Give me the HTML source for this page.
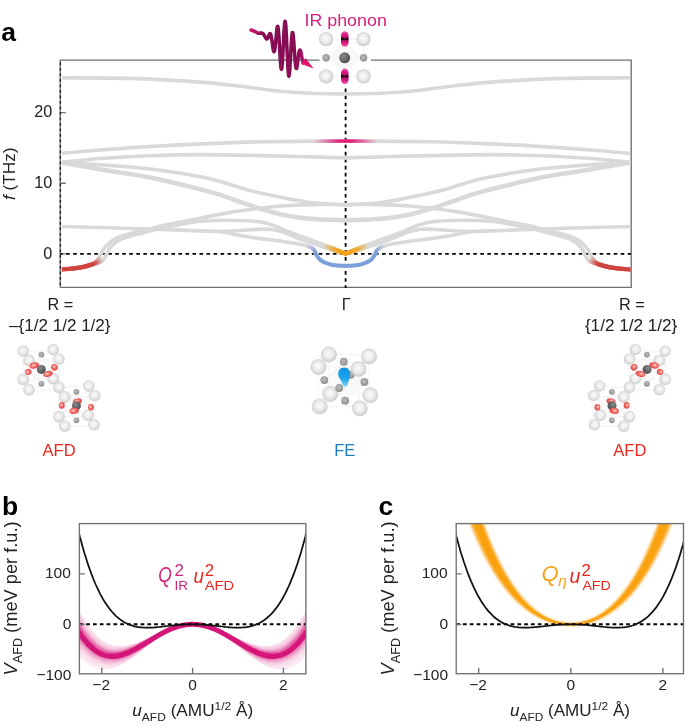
<!DOCTYPE html><html><head><meta charset="utf-8"><style>html,body{margin:0;padding:0;background:#fff;}svg{display:block;will-change:transform;font-family:"Liberation Sans",sans-serif}</style></head><body>
<svg width="685" height="727" viewBox="0 0 685 727" font-family="'Liberation Sans', sans-serif">
<defs>
<radialGradient id="gBig" cx="0.48" cy="0.46" r="0.55">
 <stop offset="0" stop-color="#fbfbfb"/><stop offset="0.5" stop-color="#ebebeb"/><stop offset="0.85" stop-color="#d2d2d2"/><stop offset="1" stop-color="#c2c2c2"/></radialGradient>
<radialGradient id="gDark" cx="0.38" cy="0.35" r="0.7">
 <stop offset="0" stop-color="#8a8a8a"/><stop offset="1" stop-color="#4a4a4a"/></radialGradient>
<radialGradient id="gSmall" cx="0.45" cy="0.42" r="0.6">
 <stop offset="0" stop-color="#bdbdbd"/><stop offset="0.7" stop-color="#9c9c9c"/><stop offset="1" stop-color="#858585"/></radialGradient>
<radialGradient id="gRed" cx="0.42" cy="0.45" r="0.6">
 <stop offset="0" stop-color="#ffe0dc"/><stop offset="0.4" stop-color="#f27a74"/><stop offset="0.8" stop-color="#e44f4c"/><stop offset="1" stop-color="#dc4a48"/></radialGradient>
<linearGradient id="gBlueDrop" x1="0" y1="0" x2="0" y2="1">
 <stop offset="0" stop-color="#1494e4"/><stop offset="0.55" stop-color="#1aa4ec"/><stop offset="1" stop-color="#86d6f6"/></linearGradient>
<linearGradient id="gPinkC" x1="0" y1="0" x2="0" y2="1">
 <stop offset="0" stop-color="#ee5aa5"/><stop offset="0.2" stop-color="#e0208a"/><stop offset="0.42" stop-color="#b01268"/><stop offset="0.5" stop-color="#801050"/><stop offset="0.58" stop-color="#b01268"/><stop offset="0.8" stop-color="#e0208a"/><stop offset="1" stop-color="#ee5aa5"/></linearGradient>
<radialGradient id="gPinkE" cx="0.5" cy="0.5" r="0.5">
 <stop offset="0" stop-color="#e81e85"/><stop offset="0.75" stop-color="#e8338f"/><stop offset="1" stop-color="#f7a8cf"/></radialGradient>
<linearGradient id="gIR" gradientUnits="userSpaceOnUse" x1="313" y1="0" x2="340" y2="0">
 <stop offset="0" stop-color="#e0207f" stop-opacity="0"/><stop offset="1" stop-color="#e0207f"/></linearGradient>
<linearGradient id="gIRr" gradientUnits="userSpaceOnUse" x1="378.2" y1="0" x2="351.2" y2="0">
 <stop offset="0" stop-color="#e0207f" stop-opacity="0"/><stop offset="1" stop-color="#e0207f"/></linearGradient>
<linearGradient id="gRedL" gradientUnits="userSpaceOnUse" x1="92" y1="266" x2="102" y2="258">
 <stop offset="0" stop-color="#d0443f"/><stop offset="1" stop-color="#d0443f" stop-opacity="0"/></linearGradient>
<linearGradient id="gRedR" gradientUnits="userSpaceOnUse" x1="599.2" y1="266" x2="589.2" y2="258">
 <stop offset="0" stop-color="#d0443f"/><stop offset="1" stop-color="#d0443f" stop-opacity="0"/></linearGradient>
<linearGradient id="gOrL" gradientUnits="userSpaceOnUse" x1="323" y1="0" x2="340" y2="0">
 <stop offset="0" stop-color="#f5a31c" stop-opacity="0"/><stop offset="1" stop-color="#f5a31c"/></linearGradient>
<linearGradient id="gOrR" gradientUnits="userSpaceOnUse" x1="368.2" y1="0" x2="351.2" y2="0">
 <stop offset="0" stop-color="#f5a31c" stop-opacity="0"/><stop offset="1" stop-color="#f5a31c"/></linearGradient>
<linearGradient id="gBlL" gradientUnits="userSpaceOnUse" x1="306" y1="246" x2="315" y2="253">
 <stop offset="0" stop-color="#7b9fd9" stop-opacity="0"/><stop offset="1" stop-color="#7b9fd9"/></linearGradient>
<linearGradient id="gBlR" gradientUnits="userSpaceOnUse" x1="385.2" y1="246" x2="376.2" y2="253">
 <stop offset="0" stop-color="#7b9fd9" stop-opacity="0"/><stop offset="1" stop-color="#7b9fd9"/></linearGradient>
<filter id="fBlur" x="-20%" y="-20%" width="140%" height="140%"><feGaussianBlur stdDeviation="1.3"/></filter>
<filter id="fBlur2" x="-20%" y="-20%" width="140%" height="140%"><feGaussianBlur stdDeviation="0.6"/></filter>
<clipPath id="clipA"><rect x="61.9" y="60.8" width="568.5" height="226"/></clipPath>
<clipPath id="clipB"><rect x="79.4" y="523.6" width="226.5" height="150.2"/></clipPath>
<clipPath id="clipC"><rect x="456.2" y="523.6" width="227.3" height="150.1"/></clipPath>
</defs>
<text x="1.2" y="41" font-size="26.5" font-weight="bold" fill="#000">a</text>
<g stroke="#707070" stroke-width="1.35" fill="none">
<path d="M60.2,287.4 H631.2 V60.1 H370.9"/>
<path d="M319.5,60.1 H60.2 V287.4"/>
<path d="M60.2,253.8 h5.6 M60.2,183.2 h5.6 M60.2,112.6 h5.6"/>
</g>
<g stroke="#000" stroke-width="1.9" fill="none">
<path d="M60.4,61 V287" stroke="#1e1e1e" stroke-dasharray="2.7 2.8" stroke-dashoffset="4" stroke-width="1.35"/>
<path d="M60.4,253.9 H631" stroke-dasharray="3.6 3.42" stroke-dashoffset="1.3"/>
<path d="M345.6,88.6 V288" stroke-dasharray="3.6 3.42" stroke-width="1.8"/>
</g>
<g clip-path="url(#clipA)">
<g fill="none" stroke="#d9d9d9" stroke-width="3.6" stroke-linecap="round" stroke-linejoin="round">
<path d="M60.00,77.80 C71.67,77.90 106.67,77.68 130.00,78.40 C153.33,79.12 181.67,80.80 200.00,82.10 C218.33,83.40 227.50,84.77 240.00,86.20 C252.50,87.63 263.33,89.52 275.00,90.70 C286.67,91.88 298.23,92.75 310.00,93.30 C321.77,93.85 339.67,93.88 345.60,94.00"/>
<path d="M631.20,77.80 C619.53,77.90 584.53,77.68 561.20,78.40 C537.87,79.12 509.53,80.80 491.20,82.10 C472.87,83.40 463.70,84.77 451.20,86.20 C438.70,87.63 427.87,89.52 416.20,90.70 C404.53,91.88 392.97,92.75 381.20,93.30 C369.43,93.85 351.53,93.88 345.60,94.00"/>
<path d="M60.00,153.50 C66.67,152.92 85.00,151.17 100.00,150.00 C115.00,148.83 133.33,147.52 150.00,146.50 C166.67,145.48 181.67,144.68 200.00,143.90 C218.33,143.12 235.73,142.28 260.00,141.80 C284.27,141.32 331.33,141.13 345.60,141.00"/>
<path d="M631.20,153.50 C624.53,152.92 606.20,151.17 591.20,150.00 C576.20,148.83 557.87,147.52 541.20,146.50 C524.53,145.48 509.53,144.68 491.20,143.90 C472.87,143.12 455.47,142.28 431.20,141.80 C406.93,141.32 359.87,141.13 345.60,141.00"/>
<path d="M60.00,162.30 C66.67,161.67 85.00,159.58 100.00,158.50 C115.00,157.42 133.33,156.45 150.00,155.80 C166.67,155.15 181.67,154.63 200.00,154.60 C218.33,154.57 235.73,155.05 260.00,155.60 C284.27,156.15 331.33,157.52 345.60,157.90"/>
<path d="M631.20,162.30 C624.53,161.67 606.20,159.58 591.20,158.50 C576.20,157.42 557.87,156.45 541.20,155.80 C524.53,155.15 509.53,154.63 491.20,154.60 C472.87,154.57 455.47,155.05 431.20,155.60 C406.93,156.15 359.87,157.52 345.60,157.90"/>
<path d="M60.00,162.30 C68.33,162.83 93.58,164.22 110.00,165.50 C126.42,166.78 141.83,167.78 158.50,170.00 C175.17,172.22 195.08,175.47 210.00,178.80 C224.92,182.13 236.33,186.97 248.00,190.00 C259.67,193.03 269.67,194.92 280.00,197.00 C290.33,199.08 299.07,201.18 310.00,202.50 C320.93,203.82 339.67,204.50 345.60,204.90"/>
<path d="M631.20,162.30 C622.87,162.83 597.62,164.22 581.20,165.50 C564.78,166.78 549.37,167.78 532.70,170.00 C516.03,172.22 496.12,175.47 481.20,178.80 C466.28,182.13 454.87,186.97 443.20,190.00 C431.53,193.03 421.53,194.92 411.20,197.00 C400.87,199.08 392.13,201.18 381.20,202.50 C370.27,203.82 351.53,204.50 345.60,204.90"/>
<path d="M60.00,269.60 C63.33,269.27 74.67,268.50 80.00,267.60 C85.33,266.70 89.17,265.30 92.00,264.20 C94.83,263.10 95.67,262.28 97.00,261.00 C98.33,259.72 99.08,258.17 100.00,256.50 C100.92,254.83 101.42,252.83 102.50,251.00 C103.58,249.17 104.75,247.33 106.50,245.50 C108.25,243.67 110.42,241.58 113.00,240.00 C115.58,238.42 118.33,237.28 122.00,236.00 C125.67,234.72 130.67,233.42 135.00,232.30 C139.33,231.18 143.83,230.30 148.00,229.30 C152.17,228.30 154.67,227.47 160.00,226.30 C165.33,225.13 173.33,223.63 180.00,222.30 C186.67,220.97 191.67,219.95 200.00,218.30 C208.33,216.65 220.00,214.07 230.00,212.40 C240.00,210.73 250.83,209.40 260.00,208.30 C269.17,207.20 276.67,206.42 285.00,205.80 C293.33,205.18 299.90,204.80 310.00,204.60 C320.10,204.40 339.67,204.60 345.60,204.60"/>
<path d="M631.20,269.60 C627.87,269.27 616.53,268.50 611.20,267.60 C605.87,266.70 602.03,265.30 599.20,264.20 C596.37,263.10 595.53,262.28 594.20,261.00 C592.87,259.72 592.12,258.17 591.20,256.50 C590.28,254.83 589.78,252.83 588.70,251.00 C587.62,249.17 586.45,247.33 584.70,245.50 C582.95,243.67 580.78,241.58 578.20,240.00 C575.62,238.42 572.87,237.28 569.20,236.00 C565.53,234.72 560.53,233.42 556.20,232.30 C551.87,231.18 547.37,230.30 543.20,229.30 C539.03,228.30 536.53,227.47 531.20,226.30 C525.87,225.13 517.87,223.63 511.20,222.30 C504.53,220.97 499.53,219.95 491.20,218.30 C482.87,216.65 471.20,214.07 461.20,212.40 C451.20,210.73 440.37,209.40 431.20,208.30 C422.03,207.20 414.53,206.42 406.20,205.80 C397.87,205.18 391.30,204.80 381.20,204.60 C371.10,204.40 351.53,204.60 345.60,204.60"/>
<path d="M60.00,269.60 C63.33,269.27 74.33,268.53 80.00,267.60 C85.67,266.67 90.50,265.02 94.00,264.00 C97.50,262.98 99.25,262.50 101.00,261.50 C102.75,260.50 103.50,259.33 104.50,258.00 C105.50,256.67 106.17,255.08 107.00,253.50 C107.83,251.92 108.33,250.17 109.50,248.50 C110.67,246.83 111.92,245.12 114.00,243.50 C116.08,241.88 118.50,240.25 122.00,238.80 C125.50,237.35 130.67,236.00 135.00,234.80 C139.33,233.60 143.83,232.63 148.00,231.60 C152.17,230.57 154.67,229.77 160.00,228.60 C165.33,227.43 173.33,225.82 180.00,224.60 C186.67,223.38 191.67,222.02 200.00,221.30 C208.33,220.58 220.00,220.20 230.00,220.30 C240.00,220.40 252.50,220.95 260.00,221.90 C267.50,222.85 270.00,224.28 275.00,226.00 C280.00,227.72 284.17,229.93 290.00,232.20 C295.83,234.47 303.33,237.13 310.00,239.60 C316.67,242.07 324.07,244.70 330.00,247.00 C335.93,249.30 343.00,252.33 345.60,253.40"/>
<path d="M631.20,269.60 C627.87,269.27 616.87,268.53 611.20,267.60 C605.53,266.67 600.70,265.02 597.20,264.00 C593.70,262.98 591.95,262.50 590.20,261.50 C588.45,260.50 587.70,259.33 586.70,258.00 C585.70,256.67 585.03,255.08 584.20,253.50 C583.37,251.92 582.87,250.17 581.70,248.50 C580.53,246.83 579.28,245.12 577.20,243.50 C575.12,241.88 572.70,240.25 569.20,238.80 C565.70,237.35 560.53,236.00 556.20,234.80 C551.87,233.60 547.37,232.63 543.20,231.60 C539.03,230.57 536.53,229.77 531.20,228.60 C525.87,227.43 517.87,225.82 511.20,224.60 C504.53,223.38 499.53,222.02 491.20,221.30 C482.87,220.58 471.20,220.20 461.20,220.30 C451.20,220.40 438.70,220.95 431.20,221.90 C423.70,222.85 421.20,224.28 416.20,226.00 C411.20,227.72 407.03,229.93 401.20,232.20 C395.37,234.47 387.87,237.13 381.20,239.60 C374.53,242.07 367.13,244.70 361.20,247.00 C355.27,249.30 348.20,252.33 345.60,253.40"/>
<path d="M60.00,226.50 C66.67,226.67 85.00,227.08 100.00,227.50 C115.00,227.92 133.33,228.43 150.00,229.00 C166.67,229.57 187.50,230.50 200.00,230.90 C212.50,231.30 216.67,231.58 225.00,231.40 C233.33,231.22 242.50,230.17 250.00,229.80 C257.50,229.43 264.33,228.78 270.00,229.20 C275.67,229.62 279.33,230.77 284.00,232.30 C288.67,233.83 292.83,236.42 298.00,238.40 C303.17,240.38 309.67,242.43 315.00,244.20 C320.33,245.97 324.90,247.40 330.00,249.00 C335.10,250.60 343.00,253.00 345.60,253.80"/>
<path d="M631.20,226.50 C624.53,226.67 606.20,227.08 591.20,227.50 C576.20,227.92 557.87,228.43 541.20,229.00 C524.53,229.57 503.70,230.50 491.20,230.90 C478.70,231.30 474.53,231.58 466.20,231.40 C457.87,231.22 448.70,230.17 441.20,229.80 C433.70,229.43 426.87,228.78 421.20,229.20 C415.53,229.62 411.87,230.77 407.20,232.30 C402.53,233.83 398.37,236.42 393.20,238.40 C388.03,240.38 381.53,242.43 376.20,244.20 C370.87,245.97 366.30,247.40 361.20,249.00 C356.10,250.60 348.20,253.00 345.60,253.80"/>
<path d="M220.00,231.60 C223.33,232.25 233.33,234.33 240.00,235.50 C246.67,236.67 253.33,237.68 260.00,238.60 C266.67,239.52 273.33,240.07 280.00,241.00 C286.67,241.93 295.00,243.20 300.00,244.20 C305.00,245.20 307.67,246.03 310.00,247.00 C312.33,247.97 312.92,248.63 314.00,250.00 C315.08,251.37 315.33,253.45 316.50,255.20 C317.67,256.95 318.75,258.97 321.00,260.50 C323.25,262.03 327.17,263.55 330.00,264.40 C332.83,265.25 335.40,265.37 338.00,265.60 C340.60,265.83 344.33,265.77 345.60,265.80"/>
<path d="M471.20,231.60 C467.87,232.25 457.87,234.33 451.20,235.50 C444.53,236.67 437.87,237.68 431.20,238.60 C424.53,239.52 417.87,240.07 411.20,241.00 C404.53,241.93 396.20,243.20 391.20,244.20 C386.20,245.20 383.53,246.03 381.20,247.00 C378.87,247.97 378.28,248.63 377.20,250.00 C376.12,251.37 375.87,253.45 374.70,255.20 C373.53,256.95 372.45,258.97 370.20,260.50 C367.95,262.03 364.03,263.55 361.20,264.40 C358.37,265.25 355.80,265.37 353.20,265.60 C350.60,265.83 346.87,265.77 345.60,265.80"/>
<path d="M60.00,162.30 C67.33,163.58 89.00,167.47 104.00,170.00 C119.00,172.53 132.33,173.85 150.00,177.50 C167.67,181.15 195.67,188.07 210.00,191.90 C224.33,195.73 227.67,197.73 236.00,200.50 C244.33,203.27 251.83,206.03 260.00,208.50 C268.17,210.97 276.67,213.60 285.00,215.30 C293.33,217.00 299.90,217.87 310.00,218.70 C320.10,219.53 339.67,220.03 345.60,220.30" stroke-width="4.6"/>
<path d="M631.20,162.30 C623.87,163.58 602.20,167.47 587.20,170.00 C572.20,172.53 558.87,173.85 541.20,177.50 C523.53,181.15 495.53,188.07 481.20,191.90 C466.87,195.73 463.53,197.73 455.20,200.50 C446.87,203.27 439.37,206.03 431.20,208.50 C423.03,210.97 414.53,213.60 406.20,215.30 C397.87,217.00 391.30,217.87 381.20,218.70 C371.10,219.53 351.53,220.03 345.60,220.30" stroke-width="4.6"/>
</g>
<g fill="none" stroke-width="3.6" stroke-linecap="round">
<path d="M200.00,143.90 C210.00,143.55 235.73,142.28 260.00,141.80 C284.27,141.32 331.33,141.13 345.60,141.00" stroke="url(#gIR)"/>
<path d="M491.20,143.90 C481.20,143.55 455.47,142.28 431.20,141.80 C406.93,141.32 359.87,141.13 345.60,141.00" stroke="url(#gIRr)"/>
<path d="M60.00,269.60 C63.33,269.27 74.67,268.50 80.00,267.60 C85.33,266.70 89.17,265.30 92.00,264.20 C94.83,263.10 95.67,262.28 97.00,261.00 C98.33,259.72 99.08,258.17 100.00,256.50 C100.92,254.83 102.08,251.92 102.50,251.00" stroke="url(#gRedL)" stroke-width="4.2"/>
<path d="M60.00,269.60 C63.33,269.27 74.33,268.53 80.00,267.60 C85.67,266.67 90.50,265.02 94.00,264.00 C97.50,262.98 99.25,262.50 101.00,261.50 C102.75,260.50 103.50,259.33 104.50,258.00 C105.50,256.67 106.58,254.25 107.00,253.50" stroke="url(#gRedL)" stroke-width="4.2"/>
<path d="M631.20,269.60 C627.87,269.27 616.53,268.50 611.20,267.60 C605.87,266.70 602.03,265.30 599.20,264.20 C596.37,263.10 595.53,262.28 594.20,261.00 C592.87,259.72 592.12,258.17 591.20,256.50 C590.28,254.83 589.12,251.92 588.70,251.00" stroke="url(#gRedR)" stroke-width="4.2"/>
<path d="M631.20,269.60 C627.87,269.27 616.87,268.53 611.20,267.60 C605.53,266.67 600.70,265.02 597.20,264.00 C593.70,262.98 591.95,262.50 590.20,261.50 C588.45,260.50 587.70,259.33 586.70,258.00 C585.70,256.67 584.62,254.25 584.20,253.50" stroke="url(#gRedR)" stroke-width="4.2"/>
<path d="M290.00,232.20 C293.33,233.43 303.33,237.13 310.00,239.60 C316.67,242.07 324.07,244.70 330.00,247.00 C335.93,249.30 343.00,252.33 345.60,253.40" stroke="url(#gOrL)" stroke-width="4"/>
<path d="M401.20,232.20 C397.87,233.43 387.87,237.13 381.20,239.60 C374.53,242.07 367.13,244.70 361.20,247.00 C355.27,249.30 348.20,252.33 345.60,253.40" stroke="url(#gOrR)" stroke-width="4"/>
<path d="M298.00,238.40 C300.83,239.37 309.67,242.43 315.00,244.20 C320.33,245.97 324.90,247.40 330.00,249.00 C335.10,250.60 343.00,253.00 345.60,253.80" stroke="url(#gOrL)" stroke-width="4"/>
<path d="M393.20,238.40 C390.37,239.37 381.53,242.43 376.20,244.20 C370.87,245.97 366.30,247.40 361.20,249.00 C356.10,250.60 348.20,253.00 345.60,253.80" stroke="url(#gOrR)" stroke-width="4"/>
<path d="M280.00,241.00 C283.33,241.53 295.00,243.20 300.00,244.20 C305.00,245.20 307.67,246.03 310.00,247.00 C312.33,247.97 312.92,248.63 314.00,250.00 C315.08,251.37 315.33,253.45 316.50,255.20 C317.67,256.95 318.75,258.97 321.00,260.50 C323.25,262.03 327.17,263.55 330.00,264.40 C332.83,265.25 335.40,265.37 338.00,265.60 C340.60,265.83 344.33,265.77 345.60,265.80" stroke="url(#gBlL)" stroke-width="4"/>
<path d="M411.20,241.00 C407.87,241.53 396.20,243.20 391.20,244.20 C386.20,245.20 383.53,246.03 381.20,247.00 C378.87,247.97 378.28,248.63 377.20,250.00 C376.12,251.37 375.87,253.45 374.70,255.20 C373.53,256.95 372.45,258.97 370.20,260.50 C367.95,262.03 364.03,263.55 361.20,264.40 C358.37,265.25 355.80,265.37 353.20,265.60 C350.60,265.83 346.87,265.77 345.60,265.80" stroke="url(#gBlR)" stroke-width="4"/>
</g>
</g>
<g font-size="16.2" fill="#222" text-anchor="end">
<text x="52.3" y="116.7">20</text><text x="52.3" y="187.8">10</text><text x="52.3" y="259.3">0</text>
</g>
<text transform="translate(14.9,173.7) rotate(-90)" font-size="16.6" fill="#222" text-anchor="middle" textLength="52.5" lengthAdjust="spacingAndGlyphs"><tspan font-style="italic">f</tspan> (THz)</text>
<g font-size="16.3" fill="#222" text-anchor="middle">
<text x="60.3" y="310">R =</text>
<text x="59.8" y="331.3" textLength="101.5" lengthAdjust="spacingAndGlyphs">–{1/2 1/2 1/2}</text>
<text x="346.2" y="310">Γ</text>
<text x="631.9" y="310">R =</text>
<text x="631.1" y="331.1" textLength="92.4" lengthAdjust="spacingAndGlyphs">{1/2 1/2 1/2}</text>
</g>
<g font-size="16.5" text-anchor="middle">
<text x="59.1" y="455.6" fill="#e8261e">AFD</text>
<text x="344.8" y="455.6" fill="#1a7cc4">FE</text>
<text x="629.8" y="455.6" fill="#e8261e">AFD</text>
</g>
<g><g stroke="#d6d6d6" stroke-width="0.6" stroke-dasharray="1.5 1.2" fill="none">
<path d="M23,351 H53 M29,360 H59 M23,379 H53 M29,390 H59 M23,351 V379 M53,350 V379 M29,360 V390 M59,359 V388"/>
<path d="M59,387 H89 M65,397 H95 M59,417 H88 M65,426 H94 M59,387 V417 M89,386 V415 M65,397 V426 M95,396 V425"/>
</g>
<g stroke="#e8e8e8" stroke-width="0.6" fill="#f6f6f6" fill-opacity="0.6">
<path d="M41.4,354.6 L28.2,371.8 L41.4,383.8 L53.8,367 Z"/>
<path d="M76.4,391.8 L61.8,405.4 L76.4,420.3 L91,407.2 Z"/>
</g>
<circle cx="23.1" cy="351.0" r="5.8" fill="url(#gBig)" opacity="0.92"/>
<circle cx="53.1" cy="349.5" r="5.8" fill="url(#gBig)" opacity="0.92"/>
<circle cx="29.0" cy="360.4" r="5.8" fill="url(#gBig)" opacity="0.92"/>
<circle cx="58.9" cy="359.0" r="5.8" fill="url(#gBig)" opacity="0.92"/>
<circle cx="23.1" cy="379.4" r="5.8" fill="url(#gBig)" opacity="0.92"/>
<circle cx="53.1" cy="378.7" r="5.8" fill="url(#gBig)" opacity="0.92"/>
<circle cx="29.0" cy="389.6" r="5.8" fill="url(#gBig)" opacity="0.92"/>
<circle cx="58.9" cy="387.4" r="5.8" fill="url(#gBig)" opacity="0.92"/>
<circle cx="88.8" cy="386.0" r="5.8" fill="url(#gBig)" opacity="0.92"/>
<circle cx="64.7" cy="396.9" r="5.8" fill="url(#gBig)" opacity="0.92"/>
<circle cx="94.7" cy="395.5" r="5.8" fill="url(#gBig)" opacity="0.92"/>
<circle cx="58.9" cy="416.6" r="5.8" fill="url(#gBig)" opacity="0.92"/>
<circle cx="88.1" cy="415.2" r="5.8" fill="url(#gBig)" opacity="0.92"/>
<circle cx="64.7" cy="426.1" r="5.8" fill="url(#gBig)" opacity="0.92"/>
<circle cx="93.9" cy="424.7" r="5.8" fill="url(#gBig)" opacity="0.92"/>
<circle cx="41.4" cy="354.6" r="2.9" fill="url(#gSmall)"/>
<circle cx="41.4" cy="383.8" r="2.9" fill="url(#gSmall)"/>
<ellipse cx="28.3" cy="371.9" rx="3.3" ry="3.0" transform="rotate(-20.0 28.3 371.9)" fill="url(#gRed)"/>
<ellipse cx="34.3" cy="365.4" rx="4.8" ry="3.1" transform="rotate(-10.0 34.3 365.4)" fill="url(#gRed)"/>
<circle cx="41.3" cy="369.4" r="4.5" fill="url(#gDark)"/>
<ellipse cx="54.4" cy="367.2" rx="3.5" ry="3.2" transform="rotate(40.0 54.4 367.2)" fill="url(#gRed)"/>
<ellipse cx="47.9" cy="373.9" rx="5.0" ry="3.0" transform="rotate(-15.0 47.9 373.9)" fill="url(#gRed)"/>
<circle cx="76.4" cy="391.8" r="2.9" fill="url(#gSmall)"/>
<circle cx="76.4" cy="420.3" r="2.9" fill="url(#gSmall)"/>
<ellipse cx="61.8" cy="405.4" rx="2.9" ry="3.3" transform="rotate(0.0 61.8 405.4)" fill="url(#gRed)"/>
<ellipse cx="77.4" cy="401.3" rx="4.6" ry="2.9" transform="rotate(-10.0 77.4 401.3)" fill="url(#gRed)"/>
<circle cx="76.4" cy="405.7" r="4.5" fill="url(#gDark)"/>
<ellipse cx="74.2" cy="410.8" rx="4.8" ry="3.0" transform="rotate(-10.0 74.2 410.8)" fill="url(#gRed)"/>
<ellipse cx="91.0" cy="407.2" rx="2.9" ry="3.3" transform="rotate(0.0 91.0 407.2)" fill="url(#gRed)"/></g>
<g transform="translate(688.4,0) scale(-1,1)"><g stroke="#d6d6d6" stroke-width="0.6" stroke-dasharray="1.5 1.2" fill="none">
<path d="M23,351 H53 M29,360 H59 M23,379 H53 M29,390 H59 M23,351 V379 M53,350 V379 M29,360 V390 M59,359 V388"/>
<path d="M59,387 H89 M65,397 H95 M59,417 H88 M65,426 H94 M59,387 V417 M89,386 V415 M65,397 V426 M95,396 V425"/>
</g>
<g stroke="#e8e8e8" stroke-width="0.6" fill="#f6f6f6" fill-opacity="0.6">
<path d="M41.4,354.6 L28.2,371.8 L41.4,383.8 L53.8,367 Z"/>
<path d="M76.4,391.8 L61.8,405.4 L76.4,420.3 L91,407.2 Z"/>
</g>
<circle cx="23.1" cy="351.0" r="5.8" fill="url(#gBig)" opacity="0.92"/>
<circle cx="53.1" cy="349.5" r="5.8" fill="url(#gBig)" opacity="0.92"/>
<circle cx="29.0" cy="360.4" r="5.8" fill="url(#gBig)" opacity="0.92"/>
<circle cx="58.9" cy="359.0" r="5.8" fill="url(#gBig)" opacity="0.92"/>
<circle cx="23.1" cy="379.4" r="5.8" fill="url(#gBig)" opacity="0.92"/>
<circle cx="53.1" cy="378.7" r="5.8" fill="url(#gBig)" opacity="0.92"/>
<circle cx="29.0" cy="389.6" r="5.8" fill="url(#gBig)" opacity="0.92"/>
<circle cx="58.9" cy="387.4" r="5.8" fill="url(#gBig)" opacity="0.92"/>
<circle cx="88.8" cy="386.0" r="5.8" fill="url(#gBig)" opacity="0.92"/>
<circle cx="64.7" cy="396.9" r="5.8" fill="url(#gBig)" opacity="0.92"/>
<circle cx="94.7" cy="395.5" r="5.8" fill="url(#gBig)" opacity="0.92"/>
<circle cx="58.9" cy="416.6" r="5.8" fill="url(#gBig)" opacity="0.92"/>
<circle cx="88.1" cy="415.2" r="5.8" fill="url(#gBig)" opacity="0.92"/>
<circle cx="64.7" cy="426.1" r="5.8" fill="url(#gBig)" opacity="0.92"/>
<circle cx="93.9" cy="424.7" r="5.8" fill="url(#gBig)" opacity="0.92"/>
<circle cx="41.4" cy="354.6" r="2.9" fill="url(#gSmall)"/>
<circle cx="41.4" cy="383.8" r="2.9" fill="url(#gSmall)"/>
<ellipse cx="28.3" cy="371.9" rx="3.3" ry="3.0" transform="rotate(-20.0 28.3 371.9)" fill="url(#gRed)"/>
<ellipse cx="34.3" cy="365.4" rx="4.8" ry="3.1" transform="rotate(-10.0 34.3 365.4)" fill="url(#gRed)"/>
<circle cx="41.3" cy="369.4" r="4.5" fill="url(#gDark)"/>
<ellipse cx="54.4" cy="367.2" rx="3.5" ry="3.2" transform="rotate(40.0 54.4 367.2)" fill="url(#gRed)"/>
<ellipse cx="47.9" cy="373.9" rx="5.0" ry="3.0" transform="rotate(-15.0 47.9 373.9)" fill="url(#gRed)"/>
<circle cx="76.4" cy="391.8" r="2.9" fill="url(#gSmall)"/>
<circle cx="76.4" cy="420.3" r="2.9" fill="url(#gSmall)"/>
<ellipse cx="61.8" cy="405.4" rx="2.9" ry="3.3" transform="rotate(0.0 61.8 405.4)" fill="url(#gRed)"/>
<ellipse cx="77.4" cy="401.3" rx="4.6" ry="2.9" transform="rotate(-10.0 77.4 401.3)" fill="url(#gRed)"/>
<circle cx="76.4" cy="405.7" r="4.5" fill="url(#gDark)"/>
<ellipse cx="74.2" cy="410.8" rx="4.8" ry="3.0" transform="rotate(-10.0 74.2 410.8)" fill="url(#gRed)"/>
<ellipse cx="91.0" cy="407.2" rx="2.9" ry="3.3" transform="rotate(0.0 91.0 407.2)" fill="url(#gRed)"/></g>
<g><g stroke="#dcdcdc" stroke-width="0.6" stroke-dasharray="1.5 1.2" fill="none">
<path d="M328.9,354.5 H369 M318.4,366.9 H358.5 M330.2,393.9 H370.3 M319.7,406.4 H359.8 M328.9,354.5 V393.9 M369,356.4 V395.2 M318.4,366.9 V406.4 M358.5,368.9 V408.3"/>
</g>
<path d="M343.8,361.7 L324.3,380.1 L345.1,400.7 L364.4,382 Z" fill="#f6f6f6" fill-opacity="0.7" stroke="#e8e8e8" stroke-width="0.6"/>
<circle cx="328.9" cy="354.5" r="7.9" fill="url(#gBig)" opacity="0.95"/>
<circle cx="369.0" cy="356.4" r="7.9" fill="url(#gBig)" opacity="0.95"/>
<circle cx="330.2" cy="393.9" r="7.9" fill="url(#gBig)" opacity="0.95"/>
<circle cx="370.3" cy="395.2" r="7.9" fill="url(#gBig)" opacity="0.95"/>
<circle cx="343.8" cy="361.7" r="3.9" fill="url(#gSmall)"/>
<circle cx="350.6" cy="374.8" r="3.9" fill="url(#gSmall)"/>
<circle cx="324.3" cy="380.1" r="3.9" fill="url(#gSmall)"/>
<circle cx="364.4" cy="382.0" r="3.9" fill="url(#gSmall)"/>
<circle cx="318.4" cy="366.9" r="7.9" fill="url(#gBig)" opacity="0.95"/>
<circle cx="358.5" cy="368.9" r="7.9" fill="url(#gBig)" opacity="0.95"/>
<circle cx="319.7" cy="406.4" r="7.9" fill="url(#gBig)" opacity="0.95"/>
<circle cx="359.8" cy="408.3" r="7.9" fill="url(#gBig)" opacity="0.95"/>
<path d="M344.2,367.6 C348.2,367.6 350.2,370.5 350.2,374.3 C350.2,377.8 348.8,380.3 348.2,383 C347.6,386 346.3,386.8 345.2,386.8 C343.8,386.8 342.6,386 342.1,383 C341.4,380 338.2,377.6 338.2,374 C338.2,370.4 340.6,367.6 344.2,367.6 Z" fill="url(#gBlueDrop)"/>
<circle cx="339.2" cy="388.0" r="3.9" fill="url(#gSmall)"/>
<circle cx="345.1" cy="400.7" r="3.9" fill="url(#gSmall)"/></g>
<g><g stroke="#dcdcdc" stroke-width="0.6" stroke-dasharray="1.5 1.2" fill="none"><path d="M326.1,39.2 H363.6 M326.1,76.4 H363.6 M326.1,39.2 V76.4 M363.6,39.2 V76.4 M326.1,57.8 H363.6 M344.7,39.2 V76.4"/></g>
<path d="M344.7,42 L328,57.8 L344.7,73.6 L361.4,57.8 Z" fill="#f8f8f8" stroke="#f0f0f0" stroke-width="0.6"/>
<circle cx="326.1" cy="39.1" r="7.2" fill="url(#gBig)" opacity="0.97"/>
<circle cx="363.5" cy="39.1" r="7.2" fill="url(#gBig)" opacity="0.97"/>
<circle cx="326.1" cy="76.4" r="7.2" fill="url(#gBig)" opacity="0.97"/>
<circle cx="363.5" cy="76.4" r="7.2" fill="url(#gBig)" opacity="0.97"/>
<circle cx="326.1" cy="57.8" r="3.7" fill="url(#gSmall)"/>
<circle cx="363.6" cy="57.8" r="3.7" fill="url(#gSmall)"/>
<circle cx="344.7" cy="57.8" r="5.5" fill="url(#gDark)"/>
<rect x="341" y="31.2" width="7.6" height="15.6" rx="3.8" ry="4.8" fill="url(#gPinkC)"/>
<path d="M341.2,37.6 L344.7,38.4 L348.2,37.6 V40.4 L344.7,39.6 L341.2,40.4 Z" fill="#1a0610"/>
<rect x="341" y="68.5" width="7.6" height="15.6" rx="3.8" ry="4.8" fill="url(#gPinkC)"/>
<path d="M341.2,74.9 L344.7,75.7 L348.2,74.9 V77.7 L344.7,76.9 L341.2,77.7 Z" fill="#1a0610"/></g>
<text x="304.5" y="25.9" font-size="16.6" fill="#d81f7e" textLength="82.3" lengthAdjust="spacingAndGlyphs">IR phonon</text>
<linearGradient id="gWave" gradientUnits="userSpaceOnUse" x1="251" y1="0" x2="306" y2="0"><stop offset="0" stop-color="#d01a6e"/><stop offset="0.22" stop-color="#7d0c4e"/><stop offset="0.8" stop-color="#7d0c4e"/><stop offset="1" stop-color="#b0126a"/></linearGradient>
<path d="M251.0,30.0L254.5,31.3L258.0,33.2L261.0,32.9L261.1,33.0L261.2,33.0L261.3,33.0L261.3,33.0L261.4,33.0L261.5,33.0L261.6,33.1L261.7,33.1L261.8,33.1L261.9,33.1L261.9,33.1L262.0,33.2L262.1,33.2L262.2,33.2L262.3,33.2L262.4,33.3L262.4,33.3L262.5,33.3L262.6,33.4L262.7,33.4L262.8,33.5L262.9,33.6L263.0,33.6L263.0,33.7L263.1,33.8L263.2,33.8L263.3,33.9L263.4,34.0L263.5,34.1L263.6,34.2L263.6,34.3L263.7,34.4L263.8,34.6L263.9,34.7L264.0,34.8L264.1,34.9L264.2,35.1L264.2,35.2L264.3,35.4L264.4,35.5L264.5,35.7L264.6,35.8L264.7,36.0L264.7,36.2L264.8,36.3L264.9,36.5L265.0,36.7L265.1,36.8L265.2,37.0L265.3,37.1L265.3,37.3L265.4,37.5L265.5,37.6L265.6,37.8L265.7,37.9L265.8,38.0L265.9,38.2L265.9,38.3L266.0,38.4L266.1,38.5L266.2,38.6L266.3,38.7L266.4,38.7L266.5,38.8L266.5,38.8L266.6,38.9L266.7,38.9L266.8,38.9L266.9,38.9L267.0,38.9L267.0,38.8L267.1,38.8L267.2,38.7L267.3,38.7L267.4,38.6L267.5,38.5L267.6,38.3L267.6,38.2L267.7,38.1L267.8,37.9L267.9,37.7L268.0,37.6L268.1,37.4L268.2,37.2L268.2,37.0L268.3,36.8L268.4,36.5L268.5,36.3L268.6,36.1L268.7,35.9L268.8,35.6L268.8,35.4L268.9,35.2L269.0,35.0L269.1,34.8L269.2,34.6L269.3,34.4L269.3,34.2L269.4,34.1L269.5,34.0L269.6,33.8L269.7,33.7L269.8,33.6L269.9,33.6L269.9,33.5L270.0,33.5L270.1,33.5L270.2,33.6L270.3,33.7L270.4,33.8L270.5,33.9L270.5,34.0L270.6,34.2L270.7,34.5L270.8,34.7L270.9,35.0L271.0,35.3L271.1,35.7L271.1,36.0L271.2,36.4L271.3,36.9L271.4,37.3L271.5,37.8L271.6,38.3L271.6,38.9L271.7,39.4L271.8,40.0L271.9,40.6L272.0,41.2L272.1,41.8L272.2,42.4L272.2,43.0L272.3,43.7L272.4,44.3L272.5,44.9L272.6,45.5L272.7,46.1L272.8,46.7L272.8,47.3L272.9,47.8L273.0,48.3L273.1,48.8L273.2,49.3L273.3,49.7L273.3,50.1L273.4,50.5L273.5,50.8L273.6,51.1L273.7,51.3L273.8,51.5L273.9,51.6L273.9,51.6L274.0,51.7L274.1,51.6L274.2,51.5L274.3,51.3L274.4,51.1L274.5,50.9L274.5,50.5L274.6,50.1L274.7,49.7L274.8,49.2L274.9,48.6L275.0,48.0L275.1,47.4L275.1,46.7L275.2,45.9L275.3,45.2L275.4,44.3L275.5,43.5L275.6,42.6L275.6,41.7L275.7,40.8L275.8,39.9L275.9,38.9L276.0,38.0L276.1,37.0L276.2,36.1L276.2,35.2L276.3,34.3L276.4,33.4L276.5,32.5L276.6,31.7L276.7,30.9L276.8,30.2L276.8,29.5L276.9,28.9L277.0,28.3L277.1,27.8L277.2,27.4L277.3,27.0L277.4,26.7L277.4,26.5L277.5,26.4L277.6,26.3L277.7,26.4L277.8,26.5L277.9,26.8L277.9,27.1L278.0,27.5L278.1,28.0L278.2,28.6L278.3,29.2L278.4,30.0L278.5,30.8L278.5,31.8L278.6,32.8L278.7,33.9L278.8,35.0L278.9,36.2L279.0,37.5L279.1,38.8L279.1,40.2L279.2,41.6L279.3,43.1L279.4,44.5L279.5,46.0L279.6,47.5L279.7,49.1L279.7,50.6L279.8,52.1L279.9,53.6L280.0,55.0L280.1,56.5L280.2,57.9L280.2,59.2L280.3,60.5L280.4,61.7L280.5,62.9L280.6,64.0L280.7,65.0L280.8,65.9L280.8,66.7L280.9,67.4L281.0,68.0L281.1,68.5L281.2,68.9L281.3,69.1L281.4,69.3L281.4,69.3L281.5,69.2L281.6,69.0L281.7,68.7L281.8,68.3L281.9,67.7L282.0,67.0L282.0,66.2L282.1,65.3L282.2,64.3L282.3,63.2L282.4,62.0L282.5,60.8L282.5,59.4L282.6,57.9L282.7,56.4L282.8,54.8L282.9,53.2L283.0,51.5L283.1,49.8L283.1,48.1L283.2,46.3L283.3,44.6L283.4,42.8L283.5,41.1L283.6,39.3L283.7,37.6L283.7,36.0L283.8,34.4L283.9,32.8L284.0,31.3L284.1,29.9L284.2,28.6L284.3,27.4L284.3,26.2L284.4,25.2L284.5,24.3L284.6,23.5L284.7,22.8L284.8,22.2L284.8,21.8L284.9,21.5L285.0,21.3L285.1,21.3L285.2,21.4L285.3,21.6L285.4,22.0L285.4,22.5L285.5,23.1L285.6,23.9L285.7,24.8L285.8,25.8L285.9,26.9L286.0,28.1L286.0,29.5L286.1,30.9L286.2,32.4L286.3,34.0L286.4,35.7L286.5,37.4L286.6,39.2L286.6,41.1L286.7,43.0L286.8,44.9L286.9,46.8L287.0,48.8L287.1,50.7L287.1,52.6L287.2,54.6L287.3,56.4L287.4,58.3L287.5,60.1L287.6,61.8L287.7,63.4L287.7,65.0L287.8,66.5L287.9,68.0L288.0,69.3L288.1,70.5L288.2,71.6L288.3,72.6L288.3,73.5L288.4,74.2L288.5,74.8L288.6,75.3L288.7,75.7L288.8,75.9L288.9,76.1L288.9,76.0L289.0,75.9L289.1,75.6L289.2,75.2L289.3,74.7L289.4,74.1L289.4,73.3L289.5,72.5L289.6,71.5L289.7,70.5L289.8,69.3L289.9,68.1L290.0,66.8L290.0,65.4L290.1,64.0L290.2,62.5L290.3,61.0L290.4,59.5L290.5,57.9L290.6,56.3L290.6,54.7L290.7,53.1L290.8,51.5L290.9,49.9L291.0,48.4L291.1,46.8L291.2,45.4L291.2,43.9L291.3,42.6L291.4,41.3L291.5,40.0L291.6,38.9L291.7,37.8L291.7,36.8L291.8,35.9L291.9,35.1L292.0,34.4L292.1,33.8L292.2,33.3L292.3,32.9L292.3,32.6L292.4,32.5L292.5,32.4L292.6,32.4L292.7,32.5L292.8,32.8L292.9,33.1L292.9,33.5L293.0,34.0L293.1,34.7L293.2,35.4L293.3,36.1L293.4,37.0L293.4,37.9L293.5,38.9L293.6,39.9L293.7,41.0L293.8,42.2L293.9,43.3L294.0,44.5L294.0,45.8L294.1,47.0L294.2,48.3L294.3,49.6L294.4,50.9L294.5,52.1L294.6,53.4L294.6,54.6L294.7,55.8L294.8,57.0L294.9,58.2L295.0,59.3L295.1,60.3L295.2,61.3L295.2,62.3L295.3,63.2L295.4,64.0L295.5,64.8L295.6,65.5L295.7,66.1L295.7,66.7L295.8,67.2L295.9,67.6L296.0,67.9L296.1,68.2L296.2,68.4L296.3,68.5L296.3,68.6L296.4,68.6L296.5,68.5L296.6,68.4L296.7,68.2L296.8,67.9L296.9,67.6L296.9,67.2L297.0,66.8L297.1,66.3L297.2,65.8L297.3,65.2L297.4,64.6L297.5,64.0L297.5,63.4L297.6,62.7L297.7,62.0L297.8,61.3L297.9,60.6L298.0,59.9L298.0,59.2L298.1,58.5L298.2,57.8L298.3,57.1L298.4,56.4L298.5,55.8L298.6,55.2L298.6,54.6L298.7,54.0L298.8,53.4L298.9,52.9L299.0,52.5L299.1,52.0L299.2,51.6L299.2,51.3L299.3,50.9L299.4,50.7L299.5,50.4L299.6,50.2L299.7,50.1L299.8,50.0L299.8,49.9L299.9,49.9L300.0,49.9L300.1,50.0L300.2,50.1L300.3,50.2L300.3,50.4L300.4,50.6L300.5,50.8L300.6,51.1L300.7,51.4L300.8,51.7L300.9,52.0L300.9,52.4L301.0,52.8L301.1,53.2L301.2,53.6L301.3,54.0L301.4,54.4L301.5,54.9L301.5,55.3L301.6,55.8L301.7,56.2L301.8,56.7L301.9,57.1L302.0,57.6L302.1,58.0L302.1,58.4L302.2,58.8L302.3,59.2L302.4,59.6L302.5,60.0L302.6,60.3L302.6,60.7L302.7,61.0L302.8,61.3L302.9,61.5L303.0,61.8L303.1,62.0L303.2,62.2L303.2,62.4L303.3,62.6L303.4,62.7L303.5,62.9" stroke="url(#gWave)" stroke-width="3.5" fill="none" stroke-linejoin="round" stroke-linecap="round"/>
<path d="M251.0,30.0L254.5,31.3L258.0,33.2L261.0,32.9L261.1,33.0L261.2,33.0L261.3,33.0L261.3,33.0L261.4,33.0L261.5,33.0L261.6,33.1L261.7,33.1L261.8,33.1L261.9,33.1L261.9,33.1L262.0,33.2L262.1,33.2L262.2,33.2L262.3,33.2L262.4,33.3L262.4,33.3L262.5,33.3L262.6,33.4L262.7,33.4L262.8,33.5L262.9,33.6L263.0,33.6L263.0,33.7L263.1,33.8L263.2,33.8L263.3,33.9L263.4,34.0L263.5,34.1L263.6,34.2L263.6,34.3L263.7,34.4L263.8,34.6L263.9,34.7L264.0,34.8L264.1,34.9L264.2,35.1L264.2,35.2L264.3,35.4L264.4,35.5L264.5,35.7L264.6,35.8L264.7,36.0L264.7,36.2L264.8,36.3L264.9,36.5L265.0,36.7L265.1,36.8L265.2,37.0L265.3,37.1L265.3,37.3L265.4,37.5L265.5,37.6L265.6,37.8L265.7,37.9L265.8,38.0L265.9,38.2L265.9,38.3L266.0,38.4L266.1,38.5L266.2,38.6L266.3,38.7L266.4,38.7L266.5,38.8L266.5,38.8L266.6,38.9L266.7,38.9L266.8,38.9L266.9,38.9L267.0,38.9L267.0,38.8L267.1,38.8L267.2,38.7L267.3,38.7L267.4,38.6L267.5,38.5L267.6,38.3L267.6,38.2L267.7,38.1L267.8,37.9L267.9,37.7L268.0,37.6L268.1,37.4L268.2,37.2L268.2,37.0L268.3,36.8L268.4,36.5L268.5,36.3L268.6,36.1L268.7,35.9L268.8,35.6L268.8,35.4L268.9,35.2L269.0,35.0L269.1,34.8L269.2,34.6L269.3,34.4L269.3,34.2L269.4,34.1L269.5,34.0L269.6,33.8L269.7,33.7L269.8,33.6L269.9,33.6L269.9,33.5L270.0,33.5L270.1,33.5L270.2,33.6L270.3,33.7L270.4,33.8L270.5,33.9L270.5,34.0L270.6,34.2L270.7,34.5L270.8,34.7L270.9,35.0L271.0,35.3L271.1,35.7L271.1,36.0L271.2,36.4L271.3,36.9L271.4,37.3L271.5,37.8L271.6,38.3L271.6,38.9L271.7,39.4L271.8,40.0L271.9,40.6L272.0,41.2L272.1,41.8L272.2,42.4L272.2,43.0L272.3,43.7L272.4,44.3L272.5,44.9L272.6,45.5L272.7,46.1L272.8,46.7L272.8,47.3L272.9,47.8L273.0,48.3L273.1,48.8L273.2,49.3L273.3,49.7L273.3,50.1L273.4,50.5L273.5,50.8L273.6,51.1L273.7,51.3L273.8,51.5L273.9,51.6L273.9,51.6L274.0,51.7L274.1,51.6L274.2,51.5L274.3,51.3L274.4,51.1L274.5,50.9L274.5,50.5L274.6,50.1L274.7,49.7L274.8,49.2L274.9,48.6L275.0,48.0L275.1,47.4L275.1,46.7L275.2,45.9L275.3,45.2L275.4,44.3L275.5,43.5L275.6,42.6L275.6,41.7L275.7,40.8L275.8,39.9L275.9,38.9L276.0,38.0L276.1,37.0L276.2,36.1L276.2,35.2L276.3,34.3L276.4,33.4L276.5,32.5L276.6,31.7L276.7,30.9L276.8,30.2L276.8,29.5L276.9,28.9L277.0,28.3L277.1,27.8L277.2,27.4L277.3,27.0L277.4,26.7L277.4,26.5L277.5,26.4L277.6,26.3L277.7,26.4L277.8,26.5L277.9,26.8L277.9,27.1L278.0,27.5L278.1,28.0L278.2,28.6L278.3,29.2L278.4,30.0L278.5,30.8L278.5,31.8L278.6,32.8L278.7,33.9L278.8,35.0L278.9,36.2L279.0,37.5L279.1,38.8L279.1,40.2L279.2,41.6L279.3,43.1L279.4,44.5L279.5,46.0L279.6,47.5L279.7,49.1L279.7,50.6L279.8,52.1L279.9,53.6L280.0,55.0L280.1,56.5L280.2,57.9L280.2,59.2L280.3,60.5L280.4,61.7L280.5,62.9L280.6,64.0L280.7,65.0L280.8,65.9L280.8,66.7L280.9,67.4L281.0,68.0L281.1,68.5L281.2,68.9L281.3,69.1L281.4,69.3L281.4,69.3L281.5,69.2L281.6,69.0L281.7,68.7L281.8,68.3L281.9,67.7L282.0,67.0L282.0,66.2L282.1,65.3L282.2,64.3L282.3,63.2L282.4,62.0L282.5,60.8L282.5,59.4L282.6,57.9L282.7,56.4L282.8,54.8L282.9,53.2L283.0,51.5L283.1,49.8L283.1,48.1L283.2,46.3L283.3,44.6L283.4,42.8L283.5,41.1L283.6,39.3L283.7,37.6L283.7,36.0L283.8,34.4L283.9,32.8L284.0,31.3L284.1,29.9L284.2,28.6L284.3,27.4L284.3,26.2L284.4,25.2L284.5,24.3L284.6,23.5L284.7,22.8L284.8,22.2L284.8,21.8L284.9,21.5L285.0,21.3L285.1,21.3L285.2,21.4L285.3,21.6L285.4,22.0L285.4,22.5L285.5,23.1L285.6,23.9L285.7,24.8L285.8,25.8L285.9,26.9L286.0,28.1L286.0,29.5L286.1,30.9L286.2,32.4L286.3,34.0L286.4,35.7L286.5,37.4L286.6,39.2L286.6,41.1L286.7,43.0L286.8,44.9L286.9,46.8L287.0,48.8L287.1,50.7L287.1,52.6L287.2,54.6L287.3,56.4L287.4,58.3L287.5,60.1L287.6,61.8L287.7,63.4L287.7,65.0L287.8,66.5L287.9,68.0L288.0,69.3L288.1,70.5L288.2,71.6L288.3,72.6L288.3,73.5L288.4,74.2L288.5,74.8L288.6,75.3L288.7,75.7L288.8,75.9L288.9,76.1L288.9,76.0L289.0,75.9L289.1,75.6L289.2,75.2L289.3,74.7L289.4,74.1L289.4,73.3L289.5,72.5L289.6,71.5L289.7,70.5L289.8,69.3L289.9,68.1L290.0,66.8L290.0,65.4L290.1,64.0L290.2,62.5L290.3,61.0L290.4,59.5L290.5,57.9L290.6,56.3L290.6,54.7L290.7,53.1L290.8,51.5L290.9,49.9L291.0,48.4L291.1,46.8L291.2,45.4L291.2,43.9L291.3,42.6L291.4,41.3L291.5,40.0L291.6,38.9L291.7,37.8L291.7,36.8L291.8,35.9L291.9,35.1L292.0,34.4L292.1,33.8L292.2,33.3L292.3,32.9L292.3,32.6L292.4,32.5L292.5,32.4L292.6,32.4L292.7,32.5L292.8,32.8L292.9,33.1L292.9,33.5L293.0,34.0L293.1,34.7L293.2,35.4L293.3,36.1L293.4,37.0L293.4,37.9L293.5,38.9L293.6,39.9L293.7,41.0L293.8,42.2L293.9,43.3L294.0,44.5L294.0,45.8L294.1,47.0L294.2,48.3L294.3,49.6L294.4,50.9L294.5,52.1L294.6,53.4L294.6,54.6L294.7,55.8L294.8,57.0L294.9,58.2L295.0,59.3L295.1,60.3L295.2,61.3L295.2,62.3L295.3,63.2L295.4,64.0L295.5,64.8L295.6,65.5L295.7,66.1L295.7,66.7L295.8,67.2L295.9,67.6L296.0,67.9L296.1,68.2L296.2,68.4L296.3,68.5L296.3,68.6L296.4,68.6L296.5,68.5L296.6,68.4L296.7,68.2L296.8,67.9L296.9,67.6L296.9,67.2L297.0,66.8L297.1,66.3L297.2,65.8L297.3,65.2L297.4,64.6L297.5,64.0L297.5,63.4L297.6,62.7L297.7,62.0L297.8,61.3L297.9,60.6L298.0,59.9L298.0,59.2L298.1,58.5L298.2,57.8L298.3,57.1L298.4,56.4L298.5,55.8L298.6,55.2L298.6,54.6L298.7,54.0L298.8,53.4L298.9,52.9L299.0,52.5L299.1,52.0L299.2,51.6L299.2,51.3L299.3,50.9L299.4,50.7L299.5,50.4L299.6,50.2L299.7,50.1L299.8,50.0L299.8,49.9L299.9,49.9L300.0,49.9L300.1,50.0L300.2,50.1L300.3,50.2L300.3,50.4L300.4,50.6L300.5,50.8L300.6,51.1L300.7,51.4L300.8,51.7L300.9,52.0L300.9,52.4L301.0,52.8L301.1,53.2L301.2,53.6L301.3,54.0L301.4,54.4L301.5,54.9L301.5,55.3L301.6,55.8L301.7,56.2L301.8,56.7L301.9,57.1L302.0,57.6L302.1,58.0L302.1,58.4L302.2,58.8L302.3,59.2L302.4,59.6L302.5,60.0L302.6,60.3L302.6,60.7L302.7,61.0L302.8,61.3L302.9,61.5L303.0,61.8L303.1,62.0L303.2,62.2L303.2,62.4L303.3,62.6L303.4,62.7L303.5,62.9" stroke="#b8186e" stroke-width="1" fill="none" opacity="0.55" transform="translate(-0.7,-0.3)"/>
<path d="M301.3,63.6 L305.5,58.5 L312.6,67.7 Z" fill="#e0156a" stroke="#e0156a" stroke-width="0.8" stroke-linejoin="round"/>
<text x="2.0" y="515" font-size="26.5" font-weight="bold" fill="#000">b</text>
<g clip-path="url(#clipB)">
<path d="M78.5,654.6L79.9,656.2L81.4,657.7L82.8,659.1L84.2,660.4L85.7,661.6L87.1,662.8L88.5,663.8L90.0,664.7L91.4,665.5L92.9,666.3L94.3,666.9L95.7,667.5L97.2,667.9L98.6,668.3L100.0,668.6L101.5,668.8L102.9,668.9L104.3,668.9L105.8,668.9L107.2,668.7L108.6,668.6L110.1,668.3L111.5,668.0L113.0,667.6L114.4,667.1L115.8,666.6L117.3,666.0L118.7,665.4L120.1,664.7L121.6,663.9L123.0,663.1L124.4,662.3L125.9,661.5L127.3,660.6L128.8,659.6L130.2,658.6L131.6,657.6L133.1,656.6L134.5,655.6L135.9,654.5L137.4,653.4L138.8,652.3L140.2,651.2L141.7,650.1L143.1,649.0L144.5,647.9L146.0,646.8L147.4,645.6L148.9,644.5L150.3,643.4L151.7,642.3L153.2,641.3L154.6,640.2L156.0,639.1L157.5,638.1L158.9,637.1L160.3,636.1L161.8,635.2L163.2,634.3L164.6,633.4L166.1,632.5L167.5,631.7L169.0,630.9L170.4,630.2L171.8,629.5L173.3,628.8L174.7,628.2L176.1,627.6L177.6,627.0L179.0,626.6L180.4,626.1L181.9,625.7L183.3,625.4L184.8,625.1L186.2,624.8L187.6,624.6L189.1,624.5L190.5,624.4L191.9,624.3L193.4,624.3L194.8,624.4L196.2,624.5L197.7,624.6L199.1,624.8L200.5,625.1L202.0,625.4L203.4,625.7L204.9,626.1L206.3,626.6L207.7,627.1L209.2,627.6L210.6,628.2L212.0,628.8L213.5,629.5L214.9,630.2L216.3,631.0L217.8,631.8L219.2,632.6L220.7,633.4L222.1,634.3L223.5,635.3L225.0,636.2L226.4,637.2L227.8,638.2L229.3,639.2L230.7,640.3L232.1,641.3L233.6,642.4L235.0,643.5L236.4,644.6L237.9,645.7L239.3,646.8L240.8,648.0L242.2,649.1L243.6,650.2L245.1,651.3L246.5,652.4L247.9,653.5L249.4,654.6L250.8,655.7L252.2,656.7L253.7,657.7L255.1,658.7L256.5,659.7L258.0,660.6L259.4,661.5L260.9,662.4L262.3,663.2L263.7,664.0L265.2,664.7L266.6,665.4L268.0,666.0L269.5,666.6L270.9,667.1L272.3,667.6L273.8,668.0L275.2,668.3L276.7,668.6L278.1,668.8L279.5,668.9L281.0,668.9L282.4,668.9L283.8,668.8L285.3,668.5L286.7,668.3L288.1,667.9L289.6,667.4L291.0,666.9L292.4,666.2L293.9,665.5L295.3,664.6L296.8,663.7L298.2,662.7L299.6,661.6L301.1,660.3L302.5,659.0L303.9,657.6L305.4,656.1L306.8,654.4" fill="none" stroke="#d6157a" stroke-width="1.3" stroke-opacity="0.084"/>
<path d="M78.5,652.8L79.9,654.4L81.4,656.0L82.8,657.5L84.2,658.8L85.7,660.1L87.1,661.2L88.5,662.3L90.0,663.3L91.4,664.1L92.9,664.9L94.3,665.6L95.7,666.2L97.2,666.7L98.6,667.1L100.0,667.4L101.5,667.6L102.9,667.8L104.3,667.8L105.8,667.8L107.2,667.8L108.6,667.6L110.1,667.4L111.5,667.1L113.0,666.7L114.4,666.3L115.8,665.8L117.3,665.2L118.7,664.6L120.1,664.0L121.6,663.2L123.0,662.5L124.4,661.7L125.9,660.8L127.3,660.0L128.8,659.1L130.2,658.1L131.6,657.1L133.1,656.1L134.5,655.1L135.9,654.1L137.4,653.0L138.8,651.9L140.2,650.9L141.7,649.8L143.1,648.7L144.5,647.6L146.0,646.5L147.4,645.4L148.9,644.3L150.3,643.2L151.7,642.1L153.2,641.0L154.6,640.0L156.0,639.0L157.5,638.0L158.9,637.0L160.3,636.0L161.8,635.1L163.2,634.2L164.6,633.3L166.1,632.4L167.5,631.6L169.0,630.8L170.4,630.1L171.8,629.4L173.3,628.7L174.7,628.1L176.1,627.5L177.6,627.0L179.0,626.5L180.4,626.1L181.9,625.7L183.3,625.3L184.8,625.1L186.2,624.8L187.6,624.6L189.1,624.5L190.5,624.4L191.9,624.3L193.4,624.3L194.8,624.4L196.2,624.5L197.7,624.6L199.1,624.8L200.5,625.1L202.0,625.4L203.4,625.7L204.9,626.1L206.3,626.6L207.7,627.1L209.2,627.6L210.6,628.2L212.0,628.8L213.5,629.5L214.9,630.2L216.3,630.9L217.8,631.7L219.2,632.5L220.7,633.3L222.1,634.2L223.5,635.1L225.0,636.1L226.4,637.0L227.8,638.0L229.3,639.0L230.7,640.1L232.1,641.1L233.6,642.2L235.0,643.3L236.4,644.3L237.9,645.4L239.3,646.5L240.8,647.6L242.2,648.7L243.6,649.8L245.1,650.9L246.5,652.0L247.9,653.1L249.4,654.2L250.8,655.2L252.2,656.2L253.7,657.2L255.1,658.2L256.5,659.1L258.0,660.0L259.4,660.9L260.9,661.7L262.3,662.5L263.7,663.3L265.2,664.0L266.6,664.7L268.0,665.3L269.5,665.8L270.9,666.3L272.3,666.7L273.8,667.1L275.2,667.4L276.7,667.6L278.1,667.8L279.5,667.8L281.0,667.8L282.4,667.8L283.8,667.6L285.3,667.4L286.7,667.1L288.1,666.6L289.6,666.1L291.0,665.5L292.4,664.9L293.9,664.1L295.3,663.2L296.8,662.2L298.2,661.2L299.6,660.0L301.1,658.7L302.5,657.4L303.9,655.9L305.4,654.3L306.8,652.7" fill="none" stroke="#d6157a" stroke-width="1.3" stroke-opacity="0.088"/>
<path d="M78.5,651.0L79.9,652.7L81.4,654.3L82.8,655.8L84.2,657.2L85.7,658.5L87.1,659.7L88.5,660.8L90.0,661.8L91.4,662.7L92.9,663.6L94.3,664.3L95.7,664.9L97.2,665.4L98.6,665.9L100.0,666.2L101.5,666.5L102.9,666.7L104.3,666.8L105.8,666.8L107.2,666.8L108.6,666.6L110.1,666.4L111.5,666.2L113.0,665.8L114.4,665.4L115.8,665.0L117.3,664.4L118.7,663.9L120.1,663.2L121.6,662.6L123.0,661.8L124.4,661.1L125.9,660.2L127.3,659.4L128.8,658.5L130.2,657.6L131.6,656.6L133.1,655.7L134.5,654.7L135.9,653.6L137.4,652.6L138.8,651.5L140.2,650.5L141.7,649.4L143.1,648.3L144.5,647.3L146.0,646.2L147.4,645.1L148.9,644.0L150.3,642.9L151.7,641.9L153.2,640.8L154.6,639.8L156.0,638.8L157.5,637.8L158.9,636.8L160.3,635.9L161.8,634.9L163.2,634.0L164.6,633.2L166.1,632.3L167.5,631.5L169.0,630.8L170.4,630.0L171.8,629.3L173.3,628.7L174.7,628.1L176.1,627.5L177.6,627.0L179.0,626.5L180.4,626.1L181.9,625.7L183.3,625.3L184.8,625.0L186.2,624.8L187.6,624.6L189.1,624.5L190.5,624.4L191.9,624.3L193.4,624.3L194.8,624.4L196.2,624.5L197.7,624.6L199.1,624.8L200.5,625.1L202.0,625.4L203.4,625.7L204.9,626.1L206.3,626.5L207.7,627.0L209.2,627.5L210.6,628.1L212.0,628.7L213.5,629.4L214.9,630.1L216.3,630.8L217.8,631.6L219.2,632.4L220.7,633.2L222.1,634.1L223.5,635.0L225.0,635.9L226.4,636.9L227.8,637.9L229.3,638.9L230.7,639.9L232.1,640.9L233.6,642.0L235.0,643.0L236.4,644.1L237.9,645.2L239.3,646.2L240.8,647.3L242.2,648.4L243.6,649.5L245.1,650.6L246.5,651.6L247.9,652.7L249.4,653.7L250.8,654.7L252.2,655.7L253.7,656.7L255.1,657.6L256.5,658.6L258.0,659.4L259.4,660.3L260.9,661.1L262.3,661.9L263.7,662.6L265.2,663.3L266.6,663.9L268.0,664.5L269.5,665.0L270.9,665.5L272.3,665.8L273.8,666.2L275.2,666.4L276.7,666.6L278.1,666.8L279.5,666.8L281.0,666.8L282.4,666.7L283.8,666.5L285.3,666.2L286.7,665.8L288.1,665.4L289.6,664.9L291.0,664.2L292.4,663.5L293.9,662.7L295.3,661.8L296.8,660.8L298.2,659.6L299.6,658.4L301.1,657.1L302.5,655.7L303.9,654.2L305.4,652.6L306.8,650.9" fill="none" stroke="#d6157a" stroke-width="1.3" stroke-opacity="0.096"/>
<path d="M78.5,649.2L79.9,651.0L81.4,652.6L82.8,654.2L84.2,655.6L85.7,657.0L87.1,658.2L88.5,659.3L90.0,660.4L91.4,661.3L92.9,662.2L94.3,662.9L95.7,663.6L97.2,664.2L98.6,664.7L100.0,665.1L101.5,665.4L102.9,665.6L104.3,665.7L105.8,665.8L107.2,665.8L108.6,665.7L110.1,665.5L111.5,665.3L113.0,665.0L114.4,664.6L115.8,664.2L117.3,663.7L118.7,663.1L120.1,662.5L121.6,661.9L123.0,661.2L124.4,660.4L125.9,659.6L127.3,658.8L128.8,657.9L130.2,657.1L131.6,656.1L133.1,655.2L134.5,654.2L135.9,653.2L137.4,652.2L138.8,651.2L140.2,650.1L141.7,649.1L143.1,648.0L144.5,646.9L146.0,645.9L147.4,644.8L148.9,643.7L150.3,642.7L151.7,641.7L153.2,640.6L154.6,639.6L156.0,638.6L157.5,637.6L158.9,636.7L160.3,635.7L161.8,634.8L163.2,633.9L164.6,633.1L166.1,632.2L167.5,631.4L169.0,630.7L170.4,630.0L171.8,629.3L173.3,628.6L174.7,628.0L176.1,627.5L177.6,627.0L179.0,626.5L180.4,626.0L181.9,625.7L183.3,625.3L184.8,625.0L186.2,624.8L187.6,624.6L189.1,624.4L190.5,624.4L191.9,624.3L193.4,624.3L194.8,624.4L196.2,624.5L197.7,624.6L199.1,624.8L200.5,625.1L202.0,625.3L203.4,625.7L204.9,626.1L206.3,626.5L207.7,627.0L209.2,627.5L210.6,628.1L212.0,628.7L213.5,629.3L214.9,630.0L216.3,630.7L217.8,631.5L219.2,632.3L220.7,633.1L222.1,634.0L223.5,634.9L225.0,635.8L226.4,636.7L227.8,637.7L229.3,638.7L230.7,639.7L232.1,640.7L233.6,641.7L235.0,642.8L236.4,643.8L237.9,644.9L239.3,645.9L240.8,647.0L242.2,648.1L243.6,649.1L245.1,650.2L246.5,651.2L247.9,652.3L249.4,653.3L250.8,654.3L252.2,655.2L253.7,656.2L255.1,657.1L256.5,658.0L258.0,658.9L259.4,659.7L260.9,660.5L262.3,661.2L263.7,661.9L265.2,662.6L266.6,663.2L268.0,663.7L269.5,664.2L270.9,664.6L272.3,665.0L273.8,665.3L275.2,665.5L276.7,665.7L278.1,665.8L279.5,665.8L281.0,665.7L282.4,665.6L283.8,665.3L285.3,665.0L286.7,664.6L288.1,664.1L289.6,663.6L291.0,662.9L292.4,662.1L293.9,661.3L295.3,660.3L296.8,659.3L298.2,658.1L299.6,656.9L301.1,655.5L302.5,654.1L303.9,652.5L305.4,650.9L306.8,649.1" fill="none" stroke="#d6157a" stroke-width="1.3" stroke-opacity="0.108"/>
<path d="M78.5,647.5L79.9,649.2L81.4,650.9L82.8,652.5L84.2,654.0L85.7,655.4L87.1,656.7L88.5,657.9L90.0,659.0L91.4,659.9L92.9,660.8L94.3,661.6L95.7,662.3L97.2,662.9L98.6,663.5L100.0,663.9L101.5,664.2L102.9,664.5L104.3,664.7L105.8,664.8L107.2,664.8L108.6,664.7L110.1,664.6L111.5,664.4L113.0,664.1L114.4,663.8L115.8,663.4L117.3,662.9L118.7,662.4L120.1,661.8L121.6,661.2L123.0,660.5L124.4,659.8L125.9,659.0L127.3,658.2L128.8,657.4L130.2,656.5L131.6,655.6L133.1,654.7L134.5,653.7L135.9,652.8L137.4,651.8L138.8,650.8L140.2,649.7L141.7,648.7L143.1,647.7L144.5,646.6L146.0,645.6L147.4,644.5L148.9,643.5L150.3,642.5L151.7,641.4L153.2,640.4L154.6,639.4L156.0,638.4L157.5,637.5L158.9,636.5L160.3,635.6L161.8,634.7L163.2,633.8L164.6,633.0L166.1,632.1L167.5,631.4L169.0,630.6L170.4,629.9L171.8,629.2L173.3,628.6L174.7,628.0L176.1,627.4L177.6,626.9L179.0,626.5L180.4,626.0L181.9,625.6L183.3,625.3L184.8,625.0L186.2,624.8L187.6,624.6L189.1,624.4L190.5,624.4L191.9,624.3L193.4,624.3L194.8,624.4L196.2,624.5L197.7,624.6L199.1,624.8L200.5,625.0L202.0,625.3L203.4,625.7L204.9,626.1L206.3,626.5L207.7,627.0L209.2,627.5L210.6,628.0L212.0,628.6L213.5,629.3L214.9,630.0L216.3,630.7L217.8,631.4L219.2,632.2L220.7,633.0L222.1,633.9L223.5,634.7L225.0,635.6L226.4,636.6L227.8,637.5L229.3,638.5L230.7,639.5L232.1,640.5L233.6,641.5L235.0,642.5L236.4,643.6L237.9,644.6L239.3,645.6L240.8,646.7L242.2,647.7L243.6,648.8L245.1,649.8L246.5,650.8L247.9,651.8L249.4,652.8L250.8,653.8L252.2,654.8L253.7,655.7L255.1,656.6L256.5,657.4L258.0,658.3L259.4,659.1L260.9,659.8L262.3,660.6L263.7,661.2L265.2,661.8L266.6,662.4L268.0,662.9L269.5,663.4L270.9,663.8L272.3,664.1L273.8,664.4L275.2,664.6L276.7,664.7L278.1,664.8L279.5,664.7L281.0,664.6L282.4,664.5L283.8,664.2L285.3,663.9L286.7,663.4L288.1,662.9L289.6,662.3L291.0,661.6L292.4,660.8L293.9,659.9L295.3,658.9L296.8,657.8L298.2,656.6L299.6,655.3L301.1,653.9L302.5,652.4L303.9,650.8L305.4,649.1L306.8,647.3" fill="none" stroke="#d6157a" stroke-width="1.3" stroke-opacity="0.128"/>
<path d="M78.5,645.7L79.9,647.5L81.4,649.2L82.8,650.9L84.2,652.4L85.7,653.8L87.1,655.2L88.5,656.4L90.0,657.5L91.4,658.5L92.9,659.5L94.3,660.3L95.7,661.1L97.2,661.7L98.6,662.3L100.0,662.7L101.5,663.1L102.9,663.4L104.3,663.6L105.8,663.7L107.2,663.8L108.6,663.7L110.1,663.6L111.5,663.5L113.0,663.2L114.4,662.9L115.8,662.5L117.3,662.1L118.7,661.6L120.1,661.1L121.6,660.5L123.0,659.8L124.4,659.2L125.9,658.4L127.3,657.6L128.8,656.8L130.2,656.0L131.6,655.1L133.1,654.2L134.5,653.3L135.9,652.3L137.4,651.4L138.8,650.4L140.2,649.4L141.7,648.3L143.1,647.3L144.5,646.3L146.0,645.3L147.4,644.2L148.9,643.2L150.3,642.2L151.7,641.2L153.2,640.2L154.6,639.2L156.0,638.2L157.5,637.3L158.9,636.3L160.3,635.4L161.8,634.5L163.2,633.7L164.6,632.9L166.1,632.0L167.5,631.3L169.0,630.5L170.4,629.8L171.8,629.2L173.3,628.5L174.7,627.9L176.1,627.4L177.6,626.9L179.0,626.4L180.4,626.0L181.9,625.6L183.3,625.3L184.8,625.0L186.2,624.8L187.6,624.6L189.1,624.4L190.5,624.4L191.9,624.3L193.4,624.3L194.8,624.4L196.2,624.5L197.7,624.6L199.1,624.8L200.5,625.0L202.0,625.3L203.4,625.7L204.9,626.0L206.3,626.5L207.7,626.9L209.2,627.4L210.6,628.0L212.0,628.6L213.5,629.2L214.9,629.9L216.3,630.6L217.8,631.3L219.2,632.1L220.7,632.9L222.1,633.7L223.5,634.6L225.0,635.5L226.4,636.4L227.8,637.3L229.3,638.3L230.7,639.3L232.1,640.3L233.6,641.3L235.0,642.3L236.4,643.3L237.9,644.3L239.3,645.3L240.8,646.4L242.2,647.4L243.6,648.4L245.1,649.4L246.5,650.4L247.9,651.4L249.4,652.4L250.8,653.3L252.2,654.3L253.7,655.2L255.1,656.0L256.5,656.9L258.0,657.7L259.4,658.5L260.9,659.2L262.3,659.9L263.7,660.5L265.2,661.1L266.6,661.7L268.0,662.1L269.5,662.6L270.9,662.9L272.3,663.2L273.8,663.5L275.2,663.7L276.7,663.7L278.1,663.8L279.5,663.7L281.0,663.6L282.4,663.4L283.8,663.1L285.3,662.7L286.7,662.2L288.1,661.7L289.6,661.0L291.0,660.3L292.4,659.4L293.9,658.5L295.3,657.4L296.8,656.3L298.2,655.1L299.6,653.7L301.1,652.3L302.5,650.8L303.9,649.1L305.4,647.4L306.8,645.5" fill="none" stroke="#d6157a" stroke-width="1.3" stroke-opacity="0.158"/>
<path d="M78.5,643.9L79.9,645.8L81.4,647.6L82.8,649.2L84.2,650.8L85.7,652.3L87.1,653.6L88.5,654.9L90.0,656.1L91.4,657.1L92.9,658.1L94.3,659.0L95.7,659.8L97.2,660.5L98.6,661.0L100.0,661.5L101.5,662.0L102.9,662.3L104.3,662.5L105.8,662.7L107.2,662.8L108.6,662.8L110.1,662.7L111.5,662.6L113.0,662.4L114.4,662.1L115.8,661.7L117.3,661.3L118.7,660.9L120.1,660.4L121.6,659.8L123.0,659.2L124.4,658.5L125.9,657.8L127.3,657.1L128.8,656.3L130.2,655.5L131.6,654.6L133.1,653.7L134.5,652.8L135.9,651.9L137.4,650.9L138.8,650.0L140.2,649.0L141.7,648.0L143.1,647.0L144.5,646.0L146.0,645.0L147.4,644.0L148.9,643.0L150.3,642.0L151.7,641.0L153.2,640.0L154.6,639.0L156.0,638.1L157.5,637.1L158.9,636.2L160.3,635.3L161.8,634.4L163.2,633.6L164.6,632.7L166.1,632.0L167.5,631.2L169.0,630.5L170.4,629.8L171.8,629.1L173.3,628.5L174.7,627.9L176.1,627.4L177.6,626.9L179.0,626.4L180.4,626.0L181.9,625.6L183.3,625.3L184.8,625.0L186.2,624.8L187.6,624.6L189.1,624.4L190.5,624.4L191.9,624.3L193.4,624.3L194.8,624.4L196.2,624.5L197.7,624.6L199.1,624.8L200.5,625.0L202.0,625.3L203.4,625.6L204.9,626.0L206.3,626.4L207.7,626.9L209.2,627.4L210.6,627.9L212.0,628.5L213.5,629.2L214.9,629.8L216.3,630.5L217.8,631.2L219.2,632.0L220.7,632.8L222.1,633.6L223.5,634.5L225.0,635.4L226.4,636.3L227.8,637.2L229.3,638.1L230.7,639.1L232.1,640.1L233.6,641.0L235.0,642.0L236.4,643.0L237.9,644.0L239.3,645.1L240.8,646.1L242.2,647.1L243.6,648.1L245.1,649.1L246.5,650.0L247.9,651.0L249.4,652.0L250.8,652.9L252.2,653.8L253.7,654.7L255.1,655.5L256.5,656.3L258.0,657.1L259.4,657.9L260.9,658.6L262.3,659.2L263.7,659.8L265.2,660.4L266.6,660.9L268.0,661.4L269.5,661.8L270.9,662.1L272.3,662.4L273.8,662.6L275.2,662.7L276.7,662.8L278.1,662.8L279.5,662.7L281.0,662.5L282.4,662.3L283.8,661.9L285.3,661.5L286.7,661.0L288.1,660.4L289.6,659.7L291.0,658.9L292.4,658.1L293.9,657.1L295.3,656.0L296.8,654.8L298.2,653.6L299.6,652.2L301.1,650.7L302.5,649.1L303.9,647.4L305.4,645.7L306.8,643.8" fill="none" stroke="#d6157a" stroke-width="1.3" stroke-opacity="0.200"/>
<path d="M78.5,642.1L79.9,644.0L81.4,645.9L82.8,647.6L84.2,649.2L85.7,650.7L87.1,652.1L88.5,653.4L90.0,654.6L91.4,655.8L92.9,656.8L94.3,657.7L95.7,658.5L97.2,659.2L98.6,659.8L100.0,660.4L101.5,660.8L102.9,661.2L104.3,661.5L105.8,661.7L107.2,661.8L108.6,661.8L110.1,661.8L111.5,661.7L113.0,661.5L114.4,661.2L115.8,660.9L117.3,660.6L118.7,660.1L120.1,659.6L121.6,659.1L123.0,658.5L124.4,657.9L125.9,657.2L127.3,656.5L128.8,655.7L130.2,654.9L131.6,654.1L133.1,653.2L134.5,652.4L135.9,651.4L137.4,650.5L138.8,649.6L140.2,648.6L141.7,647.6L143.1,646.7L144.5,645.7L146.0,644.7L147.4,643.7L148.9,642.7L150.3,641.7L151.7,640.7L153.2,639.8L154.6,638.8L156.0,637.9L157.5,636.9L158.9,636.0L160.3,635.2L161.8,634.3L163.2,633.5L164.6,632.6L166.1,631.9L167.5,631.1L169.0,630.4L170.4,629.7L171.8,629.0L173.3,628.4L174.7,627.9L176.1,627.3L177.6,626.8L179.0,626.4L180.4,626.0L181.9,625.6L183.3,625.3L184.8,625.0L186.2,624.8L187.6,624.6L189.1,624.4L190.5,624.4L191.9,624.3L193.4,624.3L194.8,624.4L196.2,624.5L197.7,624.6L199.1,624.8L200.5,625.0L202.0,625.3L203.4,625.6L204.9,626.0L206.3,626.4L207.7,626.9L209.2,627.4L210.6,627.9L212.0,628.5L213.5,629.1L214.9,629.7L216.3,630.4L217.8,631.2L219.2,631.9L220.7,632.7L222.1,633.5L223.5,634.3L225.0,635.2L226.4,636.1L227.8,637.0L229.3,637.9L230.7,638.9L232.1,639.8L233.6,640.8L235.0,641.8L236.4,642.8L237.9,643.8L239.3,644.8L240.8,645.7L242.2,646.7L243.6,647.7L245.1,648.7L246.5,649.6L247.9,650.6L249.4,651.5L250.8,652.4L252.2,653.3L253.7,654.2L255.1,655.0L256.5,655.8L258.0,656.5L259.4,657.3L260.9,657.9L262.3,658.6L263.7,659.1L265.2,659.7L266.6,660.2L268.0,660.6L269.5,661.0L270.9,661.3L272.3,661.5L273.8,661.7L275.2,661.8L276.7,661.8L278.1,661.8L279.5,661.7L281.0,661.5L282.4,661.2L283.8,660.8L285.3,660.3L286.7,659.8L288.1,659.2L289.6,658.4L291.0,657.6L292.4,656.7L293.9,655.7L295.3,654.6L296.8,653.3L298.2,652.0L299.6,650.6L301.1,649.1L302.5,647.5L303.9,645.7L305.4,643.9L306.8,642.0" fill="none" stroke="#d6157a" stroke-width="1.3" stroke-opacity="0.255"/>
<path d="M78.5,640.3L79.9,642.3L81.4,644.2L82.8,645.9L84.2,647.6L85.7,649.2L87.1,650.6L88.5,652.0L90.0,653.2L91.4,654.4L92.9,655.4L94.3,656.4L95.7,657.2L97.2,658.0L98.6,658.6L100.0,659.2L101.5,659.7L102.9,660.1L104.3,660.4L105.8,660.6L107.2,660.8L108.6,660.9L110.1,660.9L111.5,660.8L113.0,660.6L114.4,660.4L115.8,660.1L117.3,659.8L118.7,659.4L120.1,658.9L121.6,658.4L123.0,657.9L124.4,657.2L125.9,656.6L127.3,655.9L128.8,655.2L130.2,654.4L131.6,653.6L133.1,652.8L134.5,651.9L135.9,651.0L137.4,650.1L138.8,649.2L140.2,648.2L141.7,647.3L143.1,646.3L144.5,645.4L146.0,644.4L147.4,643.4L148.9,642.4L150.3,641.5L151.7,640.5L153.2,639.6L154.6,638.6L156.0,637.7L157.5,636.8L158.9,635.9L160.3,635.0L161.8,634.2L163.2,633.3L164.6,632.5L166.1,631.8L167.5,631.0L169.0,630.3L170.4,629.6L171.8,629.0L173.3,628.4L174.7,627.8L176.1,627.3L177.6,626.8L179.0,626.4L180.4,625.9L181.9,625.6L183.3,625.3L184.8,625.0L186.2,624.8L187.6,624.6L189.1,624.4L190.5,624.3L191.9,624.3L193.4,624.3L194.8,624.4L196.2,624.4L197.7,624.6L199.1,624.8L200.5,625.0L202.0,625.3L203.4,625.6L204.9,626.0L206.3,626.4L207.7,626.8L209.2,627.3L210.6,627.9L212.0,628.4L213.5,629.0L214.9,629.7L216.3,630.4L217.8,631.1L219.2,631.8L220.7,632.6L222.1,633.4L223.5,634.2L225.0,635.1L226.4,635.9L227.8,636.8L229.3,637.8L230.7,638.7L232.1,639.6L233.6,640.6L235.0,641.5L236.4,642.5L237.9,643.5L239.3,644.5L240.8,645.4L242.2,646.4L243.6,647.4L245.1,648.3L246.5,649.2L247.9,650.2L249.4,651.1L250.8,652.0L252.2,652.8L253.7,653.6L255.1,654.4L256.5,655.2L258.0,655.9L259.4,656.6L260.9,657.3L262.3,657.9L263.7,658.5L265.2,659.0L266.6,659.4L268.0,659.8L269.5,660.2L270.9,660.4L272.3,660.6L273.8,660.8L275.2,660.9L276.7,660.9L278.1,660.8L279.5,660.6L281.0,660.4L282.4,660.1L283.8,659.7L285.3,659.2L286.7,658.6L288.1,657.9L289.6,657.2L291.0,656.3L292.4,655.3L293.9,654.3L295.3,653.1L296.8,651.9L298.2,650.5L299.6,649.1L301.1,647.5L302.5,645.8L303.9,644.1L305.4,642.2L306.8,640.2" fill="none" stroke="#d6157a" stroke-width="1.3" stroke-opacity="0.322"/>
<path d="M78.5,638.6L79.9,640.6L81.4,642.5L82.8,644.3L84.2,646.0L85.7,647.6L87.1,649.1L88.5,650.5L90.0,651.8L91.4,653.0L92.9,654.0L94.3,655.0L95.7,655.9L97.2,656.7L98.6,657.4L100.0,658.0L101.5,658.6L102.9,659.0L104.3,659.3L105.8,659.6L107.2,659.8L108.6,659.9L110.1,659.9L111.5,659.9L113.0,659.8L114.4,659.6L115.8,659.3L117.3,659.0L118.7,658.6L120.1,658.2L121.6,657.7L123.0,657.2L124.4,656.6L125.9,656.0L127.3,655.3L128.8,654.6L130.2,653.9L131.6,653.1L133.1,652.3L134.5,651.4L135.9,650.6L137.4,649.7L138.8,648.8L140.2,647.9L141.7,646.9L143.1,646.0L144.5,645.0L146.0,644.1L147.4,643.1L148.9,642.2L150.3,641.2L151.7,640.3L153.2,639.3L154.6,638.4L156.0,637.5L157.5,636.6L158.9,635.7L160.3,634.9L161.8,634.0L163.2,633.2L164.6,632.4L166.1,631.7L167.5,630.9L169.0,630.2L170.4,629.6L171.8,628.9L173.3,628.3L174.7,627.8L176.1,627.3L177.6,626.8L179.0,626.3L180.4,625.9L181.9,625.6L183.3,625.3L184.8,625.0L186.2,624.8L187.6,624.6L189.1,624.4L190.5,624.3L191.9,624.3L193.4,624.3L194.8,624.4L196.2,624.4L197.7,624.6L199.1,624.8L200.5,625.0L202.0,625.3L203.4,625.6L204.9,626.0L206.3,626.4L207.7,626.8L209.2,627.3L210.6,627.8L212.0,628.4L213.5,629.0L214.9,629.6L216.3,630.3L217.8,631.0L219.2,631.7L220.7,632.5L222.1,633.3L223.5,634.1L225.0,634.9L226.4,635.8L227.8,636.7L229.3,637.6L230.7,638.5L232.1,639.4L233.6,640.3L235.0,641.3L236.4,642.2L237.9,643.2L239.3,644.2L240.8,645.1L242.2,646.1L243.6,647.0L245.1,647.9L246.5,648.8L247.9,649.7L249.4,650.6L250.8,651.5L252.2,652.3L253.7,653.1L255.1,653.9L256.5,654.7L258.0,655.4L259.4,656.0L260.9,656.7L262.3,657.2L263.7,657.8L265.2,658.2L266.6,658.7L268.0,659.0L269.5,659.3L270.9,659.6L272.3,659.8L273.8,659.9L275.2,659.9L276.7,659.9L278.1,659.8L279.5,659.6L281.0,659.3L282.4,659.0L283.8,658.5L285.3,658.0L286.7,657.4L288.1,656.7L289.6,655.9L291.0,655.0L292.4,654.0L293.9,652.9L295.3,651.7L296.8,650.4L298.2,649.0L299.6,647.5L301.1,645.9L302.5,644.2L303.9,642.4L305.4,640.4L306.8,638.4" fill="none" stroke="#d6157a" stroke-width="1.3" stroke-opacity="0.400"/>
<path d="M78.5,636.8L79.9,638.8L81.4,640.8L82.8,642.6L84.2,644.4L85.7,646.0L87.1,647.6L88.5,649.0L90.0,650.3L91.4,651.6L92.9,652.7L94.3,653.7L95.7,654.6L97.2,655.5L98.6,656.2L100.0,656.9L101.5,657.4L102.9,657.9L104.3,658.3L105.8,658.6L107.2,658.8L108.6,658.9L110.1,659.0L111.5,659.0L113.0,658.9L114.4,658.7L115.8,658.5L117.3,658.2L118.7,657.9L120.1,657.5L121.6,657.0L123.0,656.5L124.4,656.0L125.9,655.4L127.3,654.7L128.8,654.0L130.2,653.3L131.6,652.6L133.1,651.8L134.5,651.0L135.9,650.1L137.4,649.3L138.8,648.4L140.2,647.5L141.7,646.6L143.1,645.7L144.5,644.7L146.0,643.8L147.4,642.9L148.9,641.9L150.3,641.0L151.7,640.1L153.2,639.1L154.6,638.2L156.0,637.3L157.5,636.4L158.9,635.6L160.3,634.7L161.8,633.9L163.2,633.1L164.6,632.3L166.1,631.6L167.5,630.8L169.0,630.2L170.4,629.5L171.8,628.9L173.3,628.3L174.7,627.7L176.1,627.2L177.6,626.7L179.0,626.3L180.4,625.9L181.9,625.6L183.3,625.2L184.8,625.0L186.2,624.8L187.6,624.6L189.1,624.4L190.5,624.3L191.9,624.3L193.4,624.3L194.8,624.4L196.2,624.4L197.7,624.6L199.1,624.8L200.5,625.0L202.0,625.3L203.4,625.6L204.9,625.9L206.3,626.3L207.7,626.8L209.2,627.2L210.6,627.8L212.0,628.3L213.5,628.9L214.9,629.5L216.3,630.2L217.8,630.9L219.2,631.6L220.7,632.4L222.1,633.2L223.5,634.0L225.0,634.8L226.4,635.6L227.8,636.5L229.3,637.4L230.7,638.3L232.1,639.2L233.6,640.1L235.0,641.0L236.4,642.0L237.9,642.9L239.3,643.9L240.8,644.8L242.2,645.7L243.6,646.6L245.1,647.6L246.5,648.5L247.9,649.3L249.4,650.2L250.8,651.0L252.2,651.8L253.7,652.6L255.1,653.4L256.5,654.1L258.0,654.8L259.4,655.4L260.9,656.0L262.3,656.6L263.7,657.1L265.2,657.5L266.6,657.9L268.0,658.3L269.5,658.5L270.9,658.8L272.3,658.9L273.8,659.0L275.2,659.0L276.7,658.9L278.1,658.8L279.5,658.6L281.0,658.3L282.4,657.9L283.8,657.4L285.3,656.8L286.7,656.2L288.1,655.4L289.6,654.6L291.0,653.6L292.4,652.6L293.9,651.5L295.3,650.2L296.8,648.9L298.2,647.5L299.6,645.9L301.1,644.3L302.5,642.5L303.9,640.7L305.4,638.7L306.8,636.6" fill="none" stroke="#d6157a" stroke-width="1.3" stroke-opacity="0.481"/>
<path d="M78.5,635.0L79.9,637.1L81.4,639.1L82.8,641.0L84.2,642.8L85.7,644.5L87.1,646.0L88.5,647.5L90.0,648.9L91.4,650.2L92.9,651.3L94.3,652.4L95.7,653.4L97.2,654.2L98.6,655.0L100.0,655.7L101.5,656.3L102.9,656.8L104.3,657.2L105.8,657.5L107.2,657.8L108.6,658.0L110.1,658.1L111.5,658.1L113.0,658.0L114.4,657.9L115.8,657.7L117.3,657.5L118.7,657.2L120.1,656.8L121.6,656.4L123.0,655.9L124.4,655.3L125.9,654.8L127.3,654.2L128.8,653.5L130.2,652.8L131.6,652.1L133.1,651.3L134.5,650.5L135.9,649.7L137.4,648.9L138.8,648.0L140.2,647.1L141.7,646.2L143.1,645.3L144.5,644.4L146.0,643.5L147.4,642.6L148.9,641.7L150.3,640.7L151.7,639.8L153.2,638.9L154.6,638.0L156.0,637.1L157.5,636.3L158.9,635.4L160.3,634.6L161.8,633.8L163.2,633.0L164.6,632.2L166.1,631.5L167.5,630.8L169.0,630.1L170.4,629.4L171.8,628.8L173.3,628.2L174.7,627.7L176.1,627.2L177.6,626.7L179.0,626.3L180.4,625.9L181.9,625.5L183.3,625.2L184.8,625.0L186.2,624.7L187.6,624.6L189.1,624.4L190.5,624.3L191.9,624.3L193.4,624.3L194.8,624.4L196.2,624.4L197.7,624.6L199.1,624.8L200.5,625.0L202.0,625.3L203.4,625.6L204.9,625.9L206.3,626.3L207.7,626.7L209.2,627.2L210.6,627.7L212.0,628.3L213.5,628.9L214.9,629.5L216.3,630.1L217.8,630.8L219.2,631.5L220.7,632.3L222.1,633.0L223.5,633.8L225.0,634.6L226.4,635.5L227.8,636.3L229.3,637.2L230.7,638.1L232.1,639.0L233.6,639.9L235.0,640.8L236.4,641.7L237.9,642.6L239.3,643.6L240.8,644.5L242.2,645.4L243.6,646.3L245.1,647.2L246.5,648.1L247.9,648.9L249.4,649.8L250.8,650.6L252.2,651.4L253.7,652.1L255.1,652.8L256.5,653.5L258.0,654.2L259.4,654.8L260.9,655.4L262.3,655.9L263.7,656.4L265.2,656.8L266.6,657.2L268.0,657.5L269.5,657.7L270.9,657.9L272.3,658.0L273.8,658.1L275.2,658.1L276.7,658.0L278.1,657.8L279.5,657.5L281.0,657.2L282.4,656.8L283.8,656.3L285.3,655.7L286.7,655.0L288.1,654.2L289.6,653.3L291.0,652.3L292.4,651.2L293.9,650.1L295.3,648.8L296.8,647.4L298.2,645.9L299.6,644.4L301.1,642.7L302.5,640.9L303.9,639.0L305.4,637.0L306.8,634.9" fill="none" stroke="#d6157a" stroke-width="1.3" stroke-opacity="0.558"/>
<path d="M78.5,633.2L79.9,635.4L81.4,637.4L82.8,639.4L84.2,641.2L85.7,642.9L87.1,644.5L88.5,646.0L90.0,647.5L91.4,648.8L92.9,650.0L94.3,651.1L95.7,652.1L97.2,653.0L98.6,653.8L100.0,654.5L101.5,655.2L102.9,655.7L104.3,656.2L105.8,656.5L107.2,656.8L108.6,657.0L110.1,657.1L111.5,657.2L113.0,657.2L114.4,657.1L115.8,656.9L117.3,656.7L118.7,656.4L120.1,656.1L121.6,655.7L123.0,655.2L124.4,654.7L125.9,654.2L127.3,653.6L128.8,652.9L130.2,652.3L131.6,651.6L133.1,650.8L134.5,650.0L135.9,649.3L137.4,648.4L138.8,647.6L140.2,646.7L141.7,645.9L143.1,645.0L144.5,644.1L146.0,643.2L147.4,642.3L148.9,641.4L150.3,640.5L151.7,639.6L153.2,638.7L154.6,637.8L156.0,637.0L157.5,636.1L158.9,635.3L160.3,634.4L161.8,633.6L163.2,632.9L164.6,632.1L166.1,631.4L167.5,630.7L169.0,630.0L170.4,629.4L171.8,628.8L173.3,628.2L174.7,627.6L176.1,627.1L177.6,626.7L179.0,626.3L180.4,625.9L181.9,625.5L183.3,625.2L184.8,625.0L186.2,624.7L187.6,624.6L189.1,624.4L190.5,624.3L191.9,624.3L193.4,624.3L194.8,624.4L196.2,624.4L197.7,624.6L199.1,624.8L200.5,625.0L202.0,625.2L203.4,625.5L204.9,625.9L206.3,626.3L207.7,626.7L209.2,627.2L210.6,627.7L212.0,628.2L213.5,628.8L214.9,629.4L216.3,630.0L217.8,630.7L219.2,631.4L220.7,632.2L222.1,632.9L223.5,633.7L225.0,634.5L226.4,635.3L227.8,636.2L229.3,637.0L230.7,637.9L232.1,638.8L233.6,639.7L235.0,640.6L236.4,641.5L237.9,642.4L239.3,643.3L240.8,644.2L242.2,645.1L243.6,645.9L245.1,646.8L246.5,647.7L247.9,648.5L249.4,649.3L250.8,650.1L252.2,650.9L253.7,651.6L255.1,652.3L256.5,653.0L258.0,653.6L259.4,654.2L260.9,654.7L262.3,655.2L263.7,655.7L265.2,656.1L266.6,656.4L268.0,656.7L269.5,656.9L270.9,657.1L272.3,657.2L273.8,657.2L275.2,657.1L276.7,657.0L278.1,656.8L279.5,656.5L281.0,656.1L282.4,655.7L283.8,655.1L285.3,654.5L286.7,653.8L288.1,652.9L289.6,652.0L291.0,651.0L292.4,649.9L293.9,648.7L295.3,647.4L296.8,645.9L298.2,644.4L299.6,642.8L301.1,641.1L302.5,639.2L303.9,637.3L305.4,635.2L306.8,633.1" fill="none" stroke="#d6157a" stroke-width="1.3" stroke-opacity="0.622"/>
<path d="M78.5,631.5L79.9,633.6L81.4,635.7L82.8,637.7L84.2,639.6L85.7,641.4L87.1,643.0L88.5,644.6L90.0,646.0L91.4,647.4L92.9,648.6L94.3,649.8L95.7,650.8L97.2,651.7L98.6,652.6L100.0,653.4L101.5,654.0L102.9,654.6L104.3,655.1L105.8,655.5L107.2,655.8L108.6,656.0L110.1,656.2L111.5,656.3L113.0,656.3L114.4,656.2L115.8,656.1L117.3,655.9L118.7,655.7L120.1,655.3L121.6,655.0L123.0,654.6L124.4,654.1L125.9,653.6L127.3,653.0L128.8,652.4L130.2,651.7L131.6,651.0L133.1,650.3L134.5,649.6L135.9,648.8L137.4,648.0L138.8,647.2L140.2,646.4L141.7,645.5L143.1,644.7L144.5,643.8L146.0,642.9L147.4,642.0L148.9,641.1L150.3,640.3L151.7,639.4L153.2,638.5L154.6,637.6L156.0,636.8L157.5,635.9L158.9,635.1L160.3,634.3L161.8,633.5L163.2,632.7L164.6,632.0L166.1,631.3L167.5,630.6L169.0,629.9L170.4,629.3L171.8,628.7L173.3,628.1L174.7,627.6L176.1,627.1L177.6,626.6L179.0,626.2L180.4,625.8L181.9,625.5L183.3,625.2L184.8,624.9L186.2,624.7L187.6,624.6L189.1,624.4L190.5,624.3L191.9,624.3L193.4,624.3L194.8,624.4L196.2,624.4L197.7,624.6L199.1,624.7L200.5,625.0L202.0,625.2L203.4,625.5L204.9,625.9L206.3,626.3L207.7,626.7L209.2,627.1L210.6,627.6L212.0,628.2L213.5,628.7L214.9,629.3L216.3,630.0L217.8,630.6L219.2,631.3L220.7,632.1L222.1,632.8L223.5,633.6L225.0,634.4L226.4,635.2L227.8,636.0L229.3,636.8L230.7,637.7L232.1,638.6L233.6,639.4L235.0,640.3L236.4,641.2L237.9,642.1L239.3,643.0L240.8,643.8L242.2,644.7L243.6,645.6L245.1,646.4L246.5,647.3L247.9,648.1L249.4,648.9L250.8,649.6L252.2,650.4L253.7,651.1L255.1,651.8L256.5,652.4L258.0,653.0L259.4,653.6L260.9,654.1L262.3,654.6L263.7,655.0L265.2,655.4L266.6,655.7L268.0,655.9L269.5,656.1L270.9,656.2L272.3,656.3L273.8,656.3L275.2,656.2L276.7,656.0L278.1,655.8L279.5,655.5L281.0,655.1L282.4,654.6L283.8,654.0L285.3,653.3L286.7,652.5L288.1,651.7L289.6,650.7L291.0,649.7L292.4,648.5L293.9,647.3L295.3,645.9L296.8,644.5L298.2,642.9L299.6,641.2L301.1,639.5L302.5,637.6L303.9,635.6L305.4,633.5L306.8,631.3" fill="none" stroke="#d6157a" stroke-width="1.3" stroke-opacity="0.665"/>
<path d="M78.5,629.7L79.9,631.9L81.4,634.0L82.8,636.1L84.2,638.0L85.7,639.8L87.1,641.5L88.5,643.1L90.0,644.6L91.4,646.0L92.9,647.3L94.3,648.4L95.7,649.5L97.2,650.5L98.6,651.4L100.0,652.2L101.5,652.9L102.9,653.5L104.3,654.0L105.8,654.5L107.2,654.8L108.6,655.1L110.1,655.3L111.5,655.4L113.0,655.4L114.4,655.4L115.8,655.3L117.3,655.1L118.7,654.9L120.1,654.6L121.6,654.3L123.0,653.9L124.4,653.4L125.9,652.9L127.3,652.4L128.8,651.8L130.2,651.2L131.6,650.5L133.1,649.9L134.5,649.1L135.9,648.4L137.4,647.6L138.8,646.8L140.2,646.0L141.7,645.2L143.1,644.3L144.5,643.5L146.0,642.6L147.4,641.7L148.9,640.9L150.3,640.0L151.7,639.1L153.2,638.3L154.6,637.4L156.0,636.6L157.5,635.8L158.9,635.0L160.3,634.2L161.8,633.4L163.2,632.6L164.6,631.9L166.1,631.2L167.5,630.5L169.0,629.9L170.4,629.2L171.8,628.6L173.3,628.1L174.7,627.6L176.1,627.1L177.6,626.6L179.0,626.2L180.4,625.8L181.9,625.5L183.3,625.2L184.8,624.9L186.2,624.7L187.6,624.6L189.1,624.4L190.5,624.3L191.9,624.3L193.4,624.3L194.8,624.4L196.2,624.4L197.7,624.6L199.1,624.7L200.5,625.0L202.0,625.2L203.4,625.5L204.9,625.9L206.3,626.2L207.7,626.6L209.2,627.1L210.6,627.6L212.0,628.1L213.5,628.7L214.9,629.3L216.3,629.9L217.8,630.6L219.2,631.2L220.7,631.9L222.1,632.7L223.5,633.4L225.0,634.2L226.4,635.0L227.8,635.8L229.3,636.7L230.7,637.5L232.1,638.3L233.6,639.2L235.0,640.1L236.4,640.9L237.9,641.8L239.3,642.7L240.8,643.5L242.2,644.4L243.6,645.2L245.1,646.1L246.5,646.9L247.9,647.7L249.4,648.4L250.8,649.2L252.2,649.9L253.7,650.6L255.1,651.2L256.5,651.9L258.0,652.4L259.4,653.0L260.9,653.5L262.3,653.9L263.7,654.3L265.2,654.7L266.6,654.9L268.0,655.2L269.5,655.3L270.9,655.4L272.3,655.4L273.8,655.4L275.2,655.3L276.7,655.1L278.1,654.8L279.5,654.4L281.0,654.0L282.4,653.5L283.8,652.8L285.3,652.1L286.7,651.3L288.1,650.4L289.6,649.4L291.0,648.4L292.4,647.2L293.9,645.9L295.3,644.5L296.8,643.0L298.2,641.4L299.6,639.7L301.1,637.9L302.5,635.9L303.9,633.9L305.4,631.8L306.8,629.5" fill="none" stroke="#d6157a" stroke-width="1.3" stroke-opacity="0.680"/>
<path d="M78.5,628.3L79.9,630.5L81.4,632.7L82.8,634.8L84.2,636.7L85.7,638.6L87.1,640.3L88.5,641.9L90.0,643.4L91.4,644.9L92.9,646.2L94.3,647.4L95.7,648.5L97.2,649.5L98.6,650.4L100.0,651.3L101.5,652.0L102.9,652.6L104.3,653.2L105.8,653.6L107.2,654.0L108.6,654.3L110.1,654.5L111.5,654.7L113.0,654.7L114.4,654.7L115.8,654.7L117.3,654.5L118.7,654.3L120.1,654.1L121.6,653.7L123.0,653.4L124.4,652.9L125.9,652.5L127.3,651.9L128.8,651.4L130.2,650.8L131.6,650.1L133.1,649.5L134.5,648.8L135.9,648.0L137.4,647.3L138.8,646.5L140.2,645.7L141.7,644.9L143.1,644.1L144.5,643.2L146.0,642.4L147.4,641.5L148.9,640.7L150.3,639.8L151.7,639.0L153.2,638.1L154.6,637.3L156.0,636.4L157.5,635.6L158.9,634.8L160.3,634.0L161.8,633.3L163.2,632.5L164.6,631.8L166.1,631.1L167.5,630.4L169.0,629.8L170.4,629.2L171.8,628.6L173.3,628.0L174.7,627.5L176.1,627.0L177.6,626.6L179.0,626.2L180.4,625.8L181.9,625.5L183.3,625.2L184.8,624.9L186.2,624.7L187.6,624.6L189.1,624.4L190.5,624.3L191.9,624.3L193.4,624.3L194.8,624.4L196.2,624.4L197.7,624.6L199.1,624.7L200.5,625.0L202.0,625.2L203.4,625.5L204.9,625.8L206.3,626.2L207.7,626.6L209.2,627.1L210.6,627.6L212.0,628.1L213.5,628.6L214.9,629.2L216.3,629.8L217.8,630.5L219.2,631.2L220.7,631.9L222.1,632.6L223.5,633.3L225.0,634.1L226.4,634.9L227.8,635.7L229.3,636.5L230.7,637.3L232.1,638.2L233.6,639.0L235.0,639.9L236.4,640.7L237.9,641.6L239.3,642.4L240.8,643.3L242.2,644.1L243.6,644.9L245.1,645.8L246.5,646.5L247.9,647.3L249.4,648.1L250.8,648.8L252.2,649.5L253.7,650.2L255.1,650.8L256.5,651.4L258.0,652.0L259.4,652.5L260.9,653.0L262.3,653.4L263.7,653.8L265.2,654.1L266.6,654.3L268.0,654.5L269.5,654.7L270.9,654.7L272.3,654.7L273.8,654.7L275.2,654.5L276.7,654.3L278.1,654.0L279.5,653.6L281.0,653.1L282.4,652.6L283.8,651.9L285.3,651.2L286.7,650.4L288.1,649.4L289.6,648.4L291.0,647.3L292.4,646.1L293.9,644.8L295.3,643.3L296.8,641.8L298.2,640.2L299.6,638.4L301.1,636.6L302.5,634.6L303.9,632.6L305.4,630.4L306.8,628.1" fill="none" stroke="#d6157a" stroke-width="1.3" stroke-opacity="0.665"/>
<path d="M78.5,626.9L79.9,629.2L81.4,631.4L82.8,633.5L84.2,635.4L85.7,637.3L87.1,639.1L88.5,640.7L90.0,642.3L91.4,643.7L92.9,645.1L94.3,646.3L95.7,647.5L97.2,648.5L98.6,649.5L100.0,650.3L101.5,651.1L102.9,651.8L104.3,652.3L105.8,652.8L107.2,653.2L108.6,653.6L110.1,653.8L111.5,654.0L113.0,654.1L114.4,654.1L115.8,654.0L117.3,653.9L118.7,653.7L120.1,653.5L121.6,653.2L123.0,652.8L124.4,652.4L125.9,652.0L127.3,651.5L128.8,650.9L130.2,650.4L131.6,649.7L133.1,649.1L134.5,648.4L135.9,647.7L137.4,646.9L138.8,646.2L140.2,645.4L141.7,644.6L143.1,643.8L144.5,643.0L146.0,642.1L147.4,641.3L148.9,640.5L150.3,639.6L151.7,638.8L153.2,637.9L154.6,637.1L156.0,636.3L157.5,635.5L158.9,634.7L160.3,633.9L161.8,633.2L163.2,632.4L164.6,631.7L166.1,631.0L167.5,630.4L169.0,629.7L170.4,629.1L171.8,628.5L173.3,628.0L174.7,627.5L176.1,627.0L177.6,626.6L179.0,626.2L180.4,625.8L181.9,625.5L183.3,625.2L184.8,624.9L186.2,624.7L187.6,624.6L189.1,624.4L190.5,624.3L191.9,624.3L193.4,624.3L194.8,624.3L196.2,624.4L197.7,624.6L199.1,624.7L200.5,624.9L202.0,625.2L203.4,625.5L204.9,625.8L206.3,626.2L207.7,626.6L209.2,627.0L210.6,627.5L212.0,628.0L213.5,628.6L214.9,629.2L216.3,629.8L217.8,630.4L219.2,631.1L220.7,631.8L222.1,632.5L223.5,633.2L225.0,634.0L226.4,634.8L227.8,635.6L229.3,636.4L230.7,637.2L232.1,638.0L233.6,638.8L235.0,639.7L236.4,640.5L237.9,641.4L239.3,642.2L240.8,643.0L242.2,643.8L243.6,644.7L245.1,645.5L246.5,646.2L247.9,647.0L249.4,647.7L250.8,648.4L252.2,649.1L253.7,649.8L255.1,650.4L256.5,651.0L258.0,651.5L259.4,652.0L260.9,652.5L262.3,652.9L263.7,653.2L265.2,653.5L266.6,653.7L268.0,653.9L269.5,654.0L270.9,654.1L272.3,654.1L273.8,654.0L275.2,653.8L276.7,653.5L278.1,653.2L279.5,652.8L281.0,652.3L282.4,651.7L283.8,651.0L285.3,650.3L286.7,649.4L288.1,648.5L289.6,647.4L291.0,646.3L292.4,645.0L293.9,643.6L295.3,642.2L296.8,640.6L298.2,639.0L299.6,637.2L301.1,635.3L302.5,633.3L303.9,631.2L305.4,629.0L306.8,626.7" fill="none" stroke="#d6157a" stroke-width="1.3" stroke-opacity="0.622"/>
<path d="M78.5,625.4L79.9,627.8L81.4,630.0L82.8,632.1L84.2,634.2L85.7,636.1L87.1,637.9L88.5,639.6L90.0,641.2L91.4,642.6L92.9,644.0L94.3,645.3L95.7,646.5L97.2,647.5L98.6,648.5L100.0,649.4L101.5,650.2L102.9,650.9L104.3,651.5L105.8,652.0L107.2,652.4L108.6,652.8L110.1,653.1L111.5,653.3L113.0,653.4L114.4,653.4L115.8,653.4L117.3,653.3L118.7,653.1L120.1,652.9L121.6,652.6L123.0,652.3L124.4,651.9L125.9,651.5L127.3,651.0L128.8,650.5L130.2,649.9L131.6,649.3L133.1,648.7L134.5,648.0L135.9,647.3L137.4,646.6L138.8,645.9L140.2,645.1L141.7,644.3L143.1,643.5L144.5,642.7L146.0,641.9L147.4,641.1L148.9,640.3L150.3,639.4L151.7,638.6L153.2,637.8L154.6,637.0L156.0,636.2L157.5,635.4L158.9,634.6L160.3,633.8L161.8,633.1L163.2,632.3L164.6,631.6L166.1,631.0L167.5,630.3L169.0,629.7L170.4,629.1L171.8,628.5L173.3,628.0L174.7,627.5L176.1,627.0L177.6,626.5L179.0,626.1L180.4,625.8L181.9,625.5L183.3,625.2L184.8,624.9L186.2,624.7L187.6,624.6L189.1,624.4L190.5,624.3L191.9,624.3L193.4,624.3L194.8,624.3L196.2,624.4L197.7,624.6L199.1,624.7L200.5,624.9L202.0,625.2L203.4,625.5L204.9,625.8L206.3,626.2L207.7,626.6L209.2,627.0L210.6,627.5L212.0,628.0L213.5,628.5L214.9,629.1L216.3,629.7L217.8,630.3L219.2,631.0L220.7,631.7L222.1,632.4L223.5,633.1L225.0,633.9L226.4,634.6L227.8,635.4L229.3,636.2L230.7,637.0L232.1,637.8L233.6,638.7L235.0,639.5L236.4,640.3L237.9,641.1L239.3,642.0L240.8,642.8L242.2,643.6L243.6,644.4L245.1,645.2L246.5,645.9L247.9,646.7L249.4,647.4L250.8,648.1L252.2,648.7L253.7,649.4L255.1,650.0L256.5,650.5L258.0,651.1L259.4,651.5L260.9,652.0L262.3,652.3L263.7,652.7L265.2,652.9L266.6,653.2L268.0,653.3L269.5,653.4L270.9,653.4L272.3,653.4L273.8,653.2L275.2,653.0L276.7,652.8L278.1,652.4L279.5,652.0L281.0,651.4L282.4,650.8L283.8,650.1L285.3,649.3L286.7,648.5L288.1,647.5L289.6,646.4L291.0,645.2L292.4,643.9L293.9,642.5L295.3,641.0L296.8,639.4L298.2,637.7L299.6,635.9L301.1,634.0L302.5,632.0L303.9,629.9L305.4,627.6L306.8,625.3" fill="none" stroke="#d6157a" stroke-width="1.3" stroke-opacity="0.558"/>
<path d="M78.5,624.0L79.9,626.4L81.4,628.7L82.8,630.8L84.2,632.9L85.7,634.8L87.1,636.7L88.5,638.4L90.0,640.0L91.4,641.5L92.9,642.9L94.3,644.2L95.7,645.4L97.2,646.6L98.6,647.6L100.0,648.5L101.5,649.3L102.9,650.0L104.3,650.6L105.8,651.2L107.2,651.6L108.6,652.0L110.1,652.3L111.5,652.5L113.0,652.7L114.4,652.7L115.8,652.7L117.3,652.7L118.7,652.5L120.1,652.4L121.6,652.1L123.0,651.8L124.4,651.4L125.9,651.0L127.3,650.6L128.8,650.1L130.2,649.5L131.6,648.9L133.1,648.3L134.5,647.7L135.9,647.0L137.4,646.3L138.8,645.6L140.2,644.8L141.7,644.0L143.1,643.3L144.5,642.5L146.0,641.7L147.4,640.9L148.9,640.0L150.3,639.2L151.7,638.4L153.2,637.6L154.6,636.8L156.0,636.0L157.5,635.2L158.9,634.5L160.3,633.7L161.8,633.0L163.2,632.3L164.6,631.6L166.1,630.9L167.5,630.2L169.0,629.6L170.4,629.0L171.8,628.5L173.3,627.9L174.7,627.4L176.1,626.9L177.6,626.5L179.0,626.1L180.4,625.8L181.9,625.4L183.3,625.2L184.8,624.9L186.2,624.7L187.6,624.5L189.1,624.4L190.5,624.3L191.9,624.3L193.4,624.3L194.8,624.3L196.2,624.4L197.7,624.6L199.1,624.7L200.5,624.9L202.0,625.2L203.4,625.5L204.9,625.8L206.3,626.1L207.7,626.5L209.2,627.0L210.6,627.5L212.0,628.0L213.5,628.5L214.9,629.1L216.3,629.7L217.8,630.3L219.2,630.9L220.7,631.6L222.1,632.3L223.5,633.0L225.0,633.8L226.4,634.5L227.8,635.3L229.3,636.1L230.7,636.9L232.1,637.7L233.6,638.5L235.0,639.3L236.4,640.1L237.9,640.9L239.3,641.7L240.8,642.5L242.2,643.3L243.6,644.1L245.1,644.9L246.5,645.6L247.9,646.3L249.4,647.0L250.8,647.7L252.2,648.4L253.7,649.0L255.1,649.5L256.5,650.1L258.0,650.6L259.4,651.0L260.9,651.5L262.3,651.8L263.7,652.1L265.2,652.4L266.6,652.6L268.0,652.7L269.5,652.8L270.9,652.7L272.3,652.7L273.8,652.5L275.2,652.3L276.7,652.0L278.1,651.6L279.5,651.2L281.0,650.6L282.4,650.0L283.8,649.2L285.3,648.4L286.7,647.5L288.1,646.5L289.6,645.4L291.0,644.2L292.4,642.8L293.9,641.4L295.3,639.9L296.8,638.3L298.2,636.5L299.6,634.7L301.1,632.7L302.5,630.7L303.9,628.5L305.4,626.2L306.8,623.9" fill="none" stroke="#d6157a" stroke-width="1.3" stroke-opacity="0.481"/>
<path d="M78.5,622.6L79.9,625.0L81.4,627.3L82.8,629.5L84.2,631.6L85.7,633.6L87.1,635.5L88.5,637.2L90.0,638.9L91.4,640.4L92.9,641.9L94.3,643.2L95.7,644.4L97.2,645.6L98.6,646.6L100.0,647.5L101.5,648.4L102.9,649.1L104.3,649.8L105.8,650.4L107.2,650.9L108.6,651.3L110.1,651.6L111.5,651.8L113.0,652.0L114.4,652.1L115.8,652.1L117.3,652.1L118.7,652.0L120.1,651.8L121.6,651.6L123.0,651.3L124.4,650.9L125.9,650.5L127.3,650.1L128.8,649.6L130.2,649.1L131.6,648.5L133.1,647.9L134.5,647.3L135.9,646.6L137.4,645.9L138.8,645.2L140.2,644.5L141.7,643.8L143.1,643.0L144.5,642.2L146.0,641.4L147.4,640.6L148.9,639.8L150.3,639.0L151.7,638.2L153.2,637.4L154.6,636.7L156.0,635.9L157.5,635.1L158.9,634.3L160.3,633.6L161.8,632.9L163.2,632.2L164.6,631.5L166.1,630.8L167.5,630.2L169.0,629.5L170.4,629.0L171.8,628.4L173.3,627.9L174.7,627.4L176.1,626.9L177.6,626.5L179.0,626.1L180.4,625.7L181.9,625.4L183.3,625.1L184.8,624.9L186.2,624.7L187.6,624.5L189.1,624.4L190.5,624.3L191.9,624.3L193.4,624.3L194.8,624.3L196.2,624.4L197.7,624.6L199.1,624.7L200.5,624.9L202.0,625.2L203.4,625.4L204.9,625.8L206.3,626.1L207.7,626.5L209.2,627.0L210.6,627.4L212.0,627.9L213.5,628.4L214.9,629.0L216.3,629.6L217.8,630.2L219.2,630.8L220.7,631.5L222.1,632.2L223.5,632.9L225.0,633.6L226.4,634.4L227.8,635.1L229.3,635.9L230.7,636.7L232.1,637.5L233.6,638.3L235.0,639.1L236.4,639.9L237.9,640.7L239.3,641.5L240.8,642.3L242.2,643.0L243.6,643.8L245.1,644.6L246.5,645.3L247.9,646.0L249.4,646.7L250.8,647.3L252.2,648.0L253.7,648.6L255.1,649.1L256.5,649.6L258.0,650.1L259.4,650.6L260.9,650.9L262.3,651.3L263.7,651.6L265.2,651.8L266.6,652.0L268.0,652.1L269.5,652.1L270.9,652.1L272.3,652.0L273.8,651.8L275.2,651.6L276.7,651.2L278.1,650.8L279.5,650.3L281.0,649.8L282.4,649.1L283.8,648.3L285.3,647.5L286.7,646.5L288.1,645.5L289.6,644.3L291.0,643.1L292.4,641.8L293.9,640.3L295.3,638.8L296.8,637.1L298.2,635.3L299.6,633.5L301.1,631.5L302.5,629.4L303.9,627.2L305.4,624.9L306.8,622.4" fill="none" stroke="#d6157a" stroke-width="1.3" stroke-opacity="0.400"/>
<path d="M78.5,621.2L79.9,623.6L81.4,626.0L82.8,628.2L84.2,630.3L85.7,632.3L87.1,634.2L88.5,636.0L90.0,637.7L91.4,639.3L92.9,640.8L94.3,642.1L95.7,643.4L97.2,644.6L98.6,645.6L100.0,646.6L101.5,647.5L102.9,648.3L104.3,649.0L105.8,649.6L107.2,650.1L108.6,650.5L110.1,650.8L111.5,651.1L113.0,651.3L114.4,651.4L115.8,651.5L117.3,651.4L118.7,651.4L120.1,651.2L121.6,651.0L123.0,650.7L124.4,650.4L125.9,650.1L127.3,649.6L128.8,649.2L130.2,648.7L131.6,648.1L133.1,647.5L134.5,646.9L135.9,646.3L137.4,645.6L138.8,644.9L140.2,644.2L141.7,643.5L143.1,642.7L144.5,642.0L146.0,641.2L147.4,640.4L148.9,639.6L150.3,638.8L151.7,638.1L153.2,637.3L154.6,636.5L156.0,635.7L157.5,635.0L158.9,634.2L160.3,633.5L161.8,632.8L163.2,632.1L164.6,631.4L166.1,630.7L167.5,630.1L169.0,629.5L170.4,628.9L171.8,628.4L173.3,627.8L174.7,627.3L176.1,626.9L177.6,626.5L179.0,626.1L180.4,625.7L181.9,625.4L183.3,625.1L184.8,624.9L186.2,624.7L187.6,624.5L189.1,624.4L190.5,624.3L191.9,624.3L193.4,624.3L194.8,624.3L196.2,624.4L197.7,624.6L199.1,624.7L200.5,624.9L202.0,625.2L203.4,625.4L204.9,625.8L206.3,626.1L207.7,626.5L209.2,626.9L210.6,627.4L212.0,627.9L213.5,628.4L214.9,628.9L216.3,629.5L217.8,630.1L219.2,630.8L220.7,631.4L222.1,632.1L223.5,632.8L225.0,633.5L226.4,634.3L227.8,635.0L229.3,635.8L230.7,636.5L232.1,637.3L233.6,638.1L235.0,638.9L236.4,639.7L237.9,640.5L239.3,641.2L240.8,642.0L242.2,642.8L243.6,643.5L245.1,644.3L246.5,645.0L247.9,645.7L249.4,646.3L250.8,647.0L252.2,647.6L253.7,648.2L255.1,648.7L256.5,649.2L258.0,649.7L259.4,650.1L260.9,650.4L262.3,650.8L263.7,651.0L265.2,651.2L266.6,651.4L268.0,651.5L269.5,651.5L270.9,651.4L272.3,651.3L273.8,651.1L275.2,650.8L276.7,650.5L278.1,650.0L279.5,649.5L281.0,648.9L282.4,648.2L283.8,647.4L285.3,646.5L286.7,645.6L288.1,644.5L289.6,643.3L291.0,642.1L292.4,640.7L293.9,639.2L295.3,637.6L296.8,635.9L298.2,634.1L299.6,632.2L301.1,630.2L302.5,628.1L303.9,625.8L305.4,623.5L306.8,621.0" fill="none" stroke="#d6157a" stroke-width="1.3" stroke-opacity="0.322"/>
<path d="M78.5,619.8L79.9,622.3L81.4,624.6L82.8,626.9L84.2,629.1L85.7,631.1L87.1,633.0L88.5,634.9L90.0,636.6L91.4,638.2L92.9,639.7L94.3,641.1L95.7,642.4L97.2,643.6L98.6,644.7L100.0,645.7L101.5,646.6L102.9,647.4L104.3,648.1L105.8,648.7L107.2,649.3L108.6,649.7L110.1,650.1L111.5,650.4L113.0,650.6L114.4,650.8L115.8,650.8L117.3,650.8L118.7,650.8L120.1,650.6L121.6,650.5L123.0,650.2L124.4,649.9L125.9,649.6L127.3,649.2L128.8,648.7L130.2,648.2L131.6,647.7L133.1,647.2L134.5,646.6L135.9,645.9L137.4,645.3L138.8,644.6L140.2,643.9L141.7,643.2L143.1,642.5L144.5,641.7L146.0,641.0L147.4,640.2L148.9,639.4L150.3,638.6L151.7,637.9L153.2,637.1L154.6,636.3L156.0,635.6L157.5,634.8L158.9,634.1L160.3,633.4L161.8,632.7L163.2,632.0L164.6,631.3L166.1,630.7L167.5,630.0L169.0,629.4L170.4,628.9L171.8,628.3L173.3,627.8L174.7,627.3L176.1,626.9L177.6,626.4L179.0,626.1L180.4,625.7L181.9,625.4L183.3,625.1L184.8,624.9L186.2,624.7L187.6,624.5L189.1,624.4L190.5,624.3L191.9,624.3L193.4,624.3L194.8,624.3L196.2,624.4L197.7,624.5L199.1,624.7L200.5,624.9L202.0,625.1L203.4,625.4L204.9,625.7L206.3,626.1L207.7,626.5L209.2,626.9L210.6,627.3L212.0,627.8L213.5,628.3L214.9,628.9L216.3,629.5L217.8,630.1L219.2,630.7L220.7,631.3L222.1,632.0L223.5,632.7L225.0,633.4L226.4,634.1L227.8,634.9L229.3,635.6L230.7,636.4L232.1,637.2L233.6,637.9L235.0,638.7L236.4,639.5L237.9,640.2L239.3,641.0L240.8,641.8L242.2,642.5L243.6,643.2L245.1,644.0L246.5,644.7L247.9,645.3L249.4,646.0L250.8,646.6L252.2,647.2L253.7,647.8L255.1,648.3L256.5,648.8L258.0,649.2L259.4,649.6L260.9,649.9L262.3,650.2L263.7,650.5L265.2,650.7L266.6,650.8L268.0,650.8L269.5,650.8L270.9,650.8L272.3,650.6L273.8,650.4L275.2,650.1L276.7,649.7L278.1,649.2L279.5,648.7L281.0,648.1L282.4,647.3L283.8,646.5L285.3,645.6L286.7,644.6L288.1,643.5L289.6,642.3L291.0,641.0L292.4,639.6L293.9,638.1L295.3,636.5L296.8,634.7L298.2,632.9L299.6,631.0L301.1,628.9L302.5,626.8L303.9,624.5L305.4,622.1L306.8,619.6" fill="none" stroke="#d6157a" stroke-width="1.3" stroke-opacity="0.255"/>
<path d="M78.5,618.4L79.9,620.9L81.4,623.3L82.8,625.6L84.2,627.8L85.7,629.9L87.1,631.8L88.5,633.7L90.0,635.4L91.4,637.1L92.9,638.6L94.3,640.0L95.7,641.4L97.2,642.6L98.6,643.7L100.0,644.8L101.5,645.7L102.9,646.5L104.3,647.3L105.8,647.9L107.2,648.5L108.6,649.0L110.1,649.4L111.5,649.7L113.0,649.9L114.4,650.1L115.8,650.2L117.3,650.2L118.7,650.2L120.1,650.1L121.6,649.9L123.0,649.7L124.4,649.4L125.9,649.1L127.3,648.7L128.8,648.3L130.2,647.8L131.6,647.3L133.1,646.8L134.5,646.2L135.9,645.6L137.4,645.0L138.8,644.3L140.2,643.6L141.7,642.9L143.1,642.2L144.5,641.5L146.0,640.7L147.4,640.0L148.9,639.2L150.3,638.5L151.7,637.7L153.2,636.9L154.6,636.2L156.0,635.4L157.5,634.7L158.9,634.0L160.3,633.3L161.8,632.6L163.2,631.9L164.6,631.2L166.1,630.6L167.5,630.0L169.0,629.4L170.4,628.8L171.8,628.3L173.3,627.8L174.7,627.3L176.1,626.8L177.6,626.4L179.0,626.0L180.4,625.7L181.9,625.4L183.3,625.1L184.8,624.9L186.2,624.7L187.6,624.5L189.1,624.4L190.5,624.3L191.9,624.3L193.4,624.3L194.8,624.3L196.2,624.4L197.7,624.5L199.1,624.7L200.5,624.9L202.0,625.1L203.4,625.4L204.9,625.7L206.3,626.1L207.7,626.4L209.2,626.9L210.6,627.3L212.0,627.8L213.5,628.3L214.9,628.8L216.3,629.4L217.8,630.0L219.2,630.6L220.7,631.3L222.1,631.9L223.5,632.6L225.0,633.3L226.4,634.0L227.8,634.7L229.3,635.5L230.7,636.2L232.1,637.0L233.6,637.7L235.0,638.5L236.4,639.3L237.9,640.0L239.3,640.8L240.8,641.5L242.2,642.2L243.6,643.0L245.1,643.7L246.5,644.3L247.9,645.0L249.4,645.6L250.8,646.2L252.2,646.8L253.7,647.4L255.1,647.9L256.5,648.3L258.0,648.7L259.4,649.1L260.9,649.4L262.3,649.7L263.7,649.9L265.2,650.1L266.6,650.2L268.0,650.2L269.5,650.2L270.9,650.1L272.3,649.9L273.8,649.7L275.2,649.3L276.7,648.9L278.1,648.4L279.5,647.9L281.0,647.2L282.4,646.5L283.8,645.6L285.3,644.7L286.7,643.6L288.1,642.5L289.6,641.3L291.0,640.0L292.4,638.5L293.9,637.0L295.3,635.3L296.8,633.6L298.2,631.7L299.6,629.7L301.1,627.6L302.5,625.4L303.9,623.1L305.4,620.7L306.8,618.2" fill="none" stroke="#d6157a" stroke-width="1.3" stroke-opacity="0.200"/>
<path d="M78.5,617.0L79.9,619.5L81.4,622.0L82.8,624.3L84.2,626.5L85.7,628.6L87.1,630.6L88.5,632.5L90.0,634.3L91.4,636.0L92.9,637.5L94.3,639.0L95.7,640.4L97.2,641.6L98.6,642.8L100.0,643.8L101.5,644.8L102.9,645.6L104.3,646.4L105.8,647.1L107.2,647.7L108.6,648.2L110.1,648.6L111.5,649.0L113.0,649.2L114.4,649.4L115.8,649.6L117.3,649.6L118.7,649.6L120.1,649.5L121.6,649.4L123.0,649.2L124.4,648.9L125.9,648.6L127.3,648.2L128.8,647.8L130.2,647.4L131.6,646.9L133.1,646.4L134.5,645.8L135.9,645.2L137.4,644.6L138.8,644.0L140.2,643.3L141.7,642.6L143.1,641.9L144.5,641.2L146.0,640.5L147.4,639.7L148.9,639.0L150.3,638.3L151.7,637.5L153.2,636.8L154.6,636.0L156.0,635.3L157.5,634.6L158.9,633.8L160.3,633.1L161.8,632.5L163.2,631.8L164.6,631.1L166.1,630.5L167.5,629.9L169.0,629.3L170.4,628.7L171.8,628.2L173.3,627.7L174.7,627.2L176.1,626.8L177.6,626.4L179.0,626.0L180.4,625.7L181.9,625.4L183.3,625.1L184.8,624.9L186.2,624.7L187.6,624.5L189.1,624.4L190.5,624.3L191.9,624.3L193.4,624.3L194.8,624.3L196.2,624.4L197.7,624.5L199.1,624.7L200.5,624.9L202.0,625.1L203.4,625.4L204.9,625.7L206.3,626.0L207.7,626.4L209.2,626.8L210.6,627.3L212.0,627.7L213.5,628.3L214.9,628.8L216.3,629.3L217.8,629.9L219.2,630.5L220.7,631.2L222.1,631.8L223.5,632.5L225.0,633.2L226.4,633.9L227.8,634.6L229.3,635.3L230.7,636.1L232.1,636.8L233.6,637.6L235.0,638.3L236.4,639.1L237.9,639.8L239.3,640.5L240.8,641.3L242.2,642.0L243.6,642.7L245.1,643.4L246.5,644.0L247.9,644.7L249.4,645.3L250.8,645.9L252.2,646.4L253.7,646.9L255.1,647.4L256.5,647.9L258.0,648.3L259.4,648.6L260.9,648.9L262.3,649.2L263.7,649.4L265.2,649.5L266.6,649.6L268.0,649.6L269.5,649.5L270.9,649.4L272.3,649.2L273.8,649.0L275.2,648.6L276.7,648.2L278.1,647.7L279.5,647.1L281.0,646.4L282.4,645.6L283.8,644.7L285.3,643.8L286.7,642.7L288.1,641.5L289.6,640.3L291.0,638.9L292.4,637.4L293.9,635.9L295.3,634.2L296.8,632.4L298.2,630.5L299.6,628.5L301.1,626.4L302.5,624.1L303.9,621.8L305.4,619.3L306.8,616.8" fill="none" stroke="#d6157a" stroke-width="1.3" stroke-opacity="0.158"/>
<path d="M78.5,615.5L79.9,618.1L81.4,620.6L82.8,623.0L84.2,625.2L85.7,627.4L87.1,629.4L88.5,631.3L90.0,633.2L91.4,634.9L92.9,636.5L94.3,637.9L95.7,639.3L97.2,640.6L98.6,641.8L100.0,642.9L101.5,643.9L102.9,644.8L104.3,645.6L105.8,646.3L107.2,646.9L108.6,647.4L110.1,647.9L111.5,648.3L113.0,648.6L114.4,648.8L115.8,648.9L117.3,649.0L118.7,649.0L120.1,648.9L121.6,648.8L123.0,648.6L124.4,648.4L125.9,648.1L127.3,647.8L128.8,647.4L130.2,647.0L131.6,646.5L133.1,646.0L134.5,645.5L135.9,644.9L137.4,644.3L138.8,643.7L140.2,643.0L141.7,642.3L143.1,641.7L144.5,641.0L146.0,640.2L147.4,639.5L148.9,638.8L150.3,638.1L151.7,637.3L153.2,636.6L154.6,635.9L156.0,635.1L157.5,634.4L158.9,633.7L160.3,633.0L161.8,632.3L163.2,631.7L164.6,631.0L166.1,630.4L167.5,629.8L169.0,629.2L170.4,628.7L171.8,628.2L173.3,627.7L174.7,627.2L176.1,626.8L177.6,626.4L179.0,626.0L180.4,625.7L181.9,625.4L183.3,625.1L184.8,624.9L186.2,624.7L187.6,624.5L189.1,624.4L190.5,624.3L191.9,624.3L193.4,624.3L194.8,624.3L196.2,624.4L197.7,624.5L199.1,624.7L200.5,624.9L202.0,625.1L203.4,625.4L204.9,625.7L206.3,626.0L207.7,626.4L209.2,626.8L210.6,627.2L212.0,627.7L213.5,628.2L214.9,628.7L216.3,629.3L217.8,629.9L219.2,630.5L220.7,631.1L222.1,631.7L223.5,632.4L225.0,633.1L226.4,633.8L227.8,634.5L229.3,635.2L230.7,635.9L232.1,636.6L233.6,637.4L235.0,638.1L236.4,638.8L237.9,639.6L239.3,640.3L240.8,641.0L242.2,641.7L243.6,642.4L245.1,643.1L246.5,643.7L247.9,644.3L249.4,644.9L250.8,645.5L252.2,646.0L253.7,646.5L255.1,647.0L256.5,647.4L258.0,647.8L259.4,648.1L260.9,648.4L262.3,648.7L263.7,648.8L265.2,648.9L266.6,649.0L268.0,649.0L269.5,648.9L270.9,648.8L272.3,648.5L273.8,648.2L275.2,647.9L276.7,647.4L278.1,646.9L279.5,646.2L281.0,645.5L282.4,644.7L283.8,643.8L285.3,642.8L286.7,641.7L288.1,640.5L289.6,639.2L291.0,637.8L292.4,636.3L293.9,634.7L295.3,633.0L296.8,631.2L298.2,629.3L299.6,627.2L301.1,625.1L302.5,622.8L303.9,620.4L305.4,618.0L306.8,615.4" fill="none" stroke="#d6157a" stroke-width="1.3" stroke-opacity="0.128"/>
<path d="M78.5,614.1L79.9,616.8L81.4,619.3L82.8,621.7L84.2,624.0L85.7,626.1L87.1,628.2L88.5,630.2L90.0,632.0L91.4,633.7L92.9,635.4L94.3,636.9L95.7,638.3L97.2,639.6L98.6,640.8L100.0,642.0L101.5,643.0L102.9,643.9L104.3,644.7L105.8,645.5L107.2,646.1L108.6,646.7L110.1,647.1L111.5,647.5L113.0,647.9L114.4,648.1L115.8,648.3L117.3,648.4L118.7,648.4L120.1,648.4L121.6,648.3L123.0,648.1L124.4,647.9L125.9,647.6L127.3,647.3L128.8,647.0L130.2,646.6L131.6,646.1L133.1,645.6L134.5,645.1L135.9,644.5L137.4,644.0L138.8,643.4L140.2,642.7L141.7,642.1L143.1,641.4L144.5,640.7L146.0,640.0L147.4,639.3L148.9,638.6L150.3,637.9L151.7,637.1L153.2,636.4L154.6,635.7L156.0,635.0L157.5,634.3L158.9,633.6L160.3,632.9L161.8,632.2L163.2,631.6L164.6,631.0L166.1,630.3L167.5,629.8L169.0,629.2L170.4,628.6L171.8,628.1L173.3,627.6L174.7,627.2L176.1,626.7L177.6,626.3L179.0,626.0L180.4,625.6L181.9,625.4L183.3,625.1L184.8,624.9L186.2,624.7L187.6,624.5L189.1,624.4L190.5,624.3L191.9,624.3L193.4,624.3L194.8,624.3L196.2,624.4L197.7,624.5L199.1,624.7L200.5,624.9L202.0,625.1L203.4,625.4L204.9,625.7L206.3,626.0L207.7,626.4L209.2,626.8L210.6,627.2L212.0,627.7L213.5,628.2L214.9,628.7L216.3,629.2L217.8,629.8L219.2,630.4L220.7,631.0L222.1,631.6L223.5,632.3L225.0,633.0L226.4,633.6L227.8,634.3L229.3,635.0L230.7,635.8L232.1,636.5L233.6,637.2L235.0,637.9L236.4,638.6L237.9,639.4L239.3,640.1L240.8,640.8L242.2,641.4L243.6,642.1L245.1,642.8L246.5,643.4L247.9,644.0L249.4,644.6L250.8,645.1L252.2,645.7L253.7,646.1L255.1,646.6L256.5,647.0L258.0,647.3L259.4,647.7L260.9,647.9L262.3,648.1L263.7,648.3L265.2,648.4L266.6,648.4L268.0,648.4L269.5,648.3L270.9,648.1L272.3,647.8L273.8,647.5L275.2,647.1L276.7,646.6L278.1,646.1L279.5,645.4L281.0,644.7L282.4,643.8L283.8,642.9L285.3,641.9L286.7,640.8L288.1,639.5L289.6,638.2L291.0,636.8L292.4,635.3L293.9,633.6L295.3,631.9L296.8,630.0L298.2,628.1L299.6,626.0L301.1,623.8L302.5,621.5L303.9,619.1L305.4,616.6L306.8,613.9" fill="none" stroke="#d6157a" stroke-width="1.3" stroke-opacity="0.108"/>
<path d="M78.5,612.7L79.9,615.4L81.4,617.9L82.8,620.4L84.2,622.7L85.7,624.9L87.1,627.0L88.5,629.0L90.0,630.9L91.4,632.6L92.9,634.3L94.3,635.9L95.7,637.3L97.2,638.6L98.6,639.9L100.0,641.0L101.5,642.1L102.9,643.0L104.3,643.9L105.8,644.6L107.2,645.3L108.6,645.9L110.1,646.4L111.5,646.8L113.0,647.2L114.4,647.4L115.8,647.6L117.3,647.8L118.7,647.8L120.1,647.8L121.6,647.7L123.0,647.6L124.4,647.4L125.9,647.2L127.3,646.9L128.8,646.5L130.2,646.1L131.6,645.7L133.1,645.2L134.5,644.7L135.9,644.2L137.4,643.6L138.8,643.0L140.2,642.4L141.7,641.8L143.1,641.1L144.5,640.5L146.0,639.8L147.4,639.1L148.9,638.4L150.3,637.7L151.7,637.0L153.2,636.3L154.6,635.6L156.0,634.9L157.5,634.2L158.9,633.5L160.3,632.8L161.8,632.1L163.2,631.5L164.6,630.9L166.1,630.3L167.5,629.7L169.0,629.1L170.4,628.6L171.8,628.1L173.3,627.6L174.7,627.1L176.1,626.7L177.6,626.3L179.0,626.0L180.4,625.6L181.9,625.3L183.3,625.1L184.8,624.9L186.2,624.7L187.6,624.5L189.1,624.4L190.5,624.3L191.9,624.3L193.4,624.3L194.8,624.3L196.2,624.4L197.7,624.5L199.1,624.7L200.5,624.9L202.0,625.1L203.4,625.4L204.9,625.7L206.3,626.0L207.7,626.3L209.2,626.7L210.6,627.2L212.0,627.6L213.5,628.1L214.9,628.6L216.3,629.2L217.8,629.7L219.2,630.3L220.7,630.9L222.1,631.5L223.5,632.2L225.0,632.8L226.4,633.5L227.8,634.2L229.3,634.9L230.7,635.6L232.1,636.3L233.6,637.0L235.0,637.7L236.4,638.4L237.9,639.1L239.3,639.8L240.8,640.5L242.2,641.2L243.6,641.8L245.1,642.5L246.5,643.1L247.9,643.7L249.4,644.2L250.8,644.8L252.2,645.3L253.7,645.7L255.1,646.2L256.5,646.5L258.0,646.9L259.4,647.2L260.9,647.4L262.3,647.6L263.7,647.7L265.2,647.8L266.6,647.8L268.0,647.7L269.5,647.6L270.9,647.4L272.3,647.2L273.8,646.8L275.2,646.4L276.7,645.9L278.1,645.3L279.5,644.6L281.0,643.8L282.4,643.0L283.8,642.0L285.3,641.0L286.7,639.8L288.1,638.6L289.6,637.2L291.0,635.7L292.4,634.2L293.9,632.5L295.3,630.7L296.8,628.9L298.2,626.9L299.6,624.8L301.1,622.5L302.5,620.2L303.9,617.8L305.4,615.2L306.8,612.5" fill="none" stroke="#d6157a" stroke-width="1.3" stroke-opacity="0.096"/>
<path d="M78.5,611.3L79.9,614.0L81.4,616.6L82.8,619.1L84.2,621.4L85.7,623.7L87.1,625.8L88.5,627.8L90.0,629.7L91.4,631.5L92.9,633.2L94.3,634.8L95.7,636.3L97.2,637.7L98.6,638.9L100.0,640.1L101.5,641.2L102.9,642.2L104.3,643.0L105.8,643.8L107.2,644.5L108.6,645.1L110.1,645.7L111.5,646.1L113.0,646.5L114.4,646.8L115.8,647.0L117.3,647.1L118.7,647.2L120.1,647.2L121.6,647.2L123.0,647.1L124.4,646.9L125.9,646.7L127.3,646.4L128.8,646.1L130.2,645.7L131.6,645.3L133.1,644.8L134.5,644.4L135.9,643.8L137.4,643.3L138.8,642.7L140.2,642.1L141.7,641.5L143.1,640.9L144.5,640.2L146.0,639.5L147.4,638.9L148.9,638.2L150.3,637.5L151.7,636.8L153.2,636.1L154.6,635.4L156.0,634.7L157.5,634.0L158.9,633.4L160.3,632.7L161.8,632.0L163.2,631.4L164.6,630.8L166.1,630.2L167.5,629.6L169.0,629.1L170.4,628.5L171.8,628.0L173.3,627.6L174.7,627.1L176.1,626.7L177.6,626.3L179.0,625.9L180.4,625.6L181.9,625.3L183.3,625.1L184.8,624.9L186.2,624.7L187.6,624.5L189.1,624.4L190.5,624.3L191.9,624.3L193.4,624.3L194.8,624.3L196.2,624.4L197.7,624.5L199.1,624.7L200.5,624.9L202.0,625.1L203.4,625.3L204.9,625.6L206.3,626.0L207.7,626.3L209.2,626.7L210.6,627.1L212.0,627.6L213.5,628.1L214.9,628.6L216.3,629.1L217.8,629.7L219.2,630.2L220.7,630.8L222.1,631.5L223.5,632.1L225.0,632.7L226.4,633.4L227.8,634.1L229.3,634.8L230.7,635.4L232.1,636.1L233.6,636.8L235.0,637.5L236.4,638.2L237.9,638.9L239.3,639.6L240.8,640.3L242.2,640.9L243.6,641.5L245.1,642.2L246.5,642.8L247.9,643.3L249.4,643.9L250.8,644.4L252.2,644.9L253.7,645.3L255.1,645.7L256.5,646.1L258.0,646.4L259.4,646.7L260.9,646.9L262.3,647.1L263.7,647.2L265.2,647.2L266.6,647.2L268.0,647.1L269.5,647.0L270.9,646.8L272.3,646.5L273.8,646.1L275.2,645.6L276.7,645.1L278.1,644.5L279.5,643.8L281.0,643.0L282.4,642.1L283.8,641.1L285.3,640.0L286.7,638.8L288.1,637.6L289.6,636.2L291.0,634.7L292.4,633.1L293.9,631.4L295.3,629.6L296.8,627.7L298.2,625.7L299.6,623.5L301.1,621.3L302.5,618.9L303.9,616.4L305.4,613.8L306.8,611.1" fill="none" stroke="#d6157a" stroke-width="1.3" stroke-opacity="0.088"/>
<path d="M78.5,609.9L79.9,612.6L81.4,615.2L82.8,617.8L84.2,620.1L85.7,622.4L87.1,624.6L88.5,626.6L90.0,628.6L91.4,630.4L92.9,632.1L94.3,633.8L95.7,635.3L97.2,636.7L98.6,638.0L100.0,639.2L101.5,640.3L102.9,641.3L104.3,642.2L105.8,643.0L107.2,643.7L108.6,644.4L110.1,644.9L111.5,645.4L113.0,645.8L114.4,646.1L115.8,646.4L117.3,646.5L118.7,646.6L120.1,646.7L121.6,646.6L123.0,646.5L124.4,646.4L125.9,646.2L127.3,645.9L128.8,645.6L130.2,645.3L131.6,644.9L133.1,644.5L134.5,644.0L135.9,643.5L137.4,643.0L138.8,642.4L140.2,641.8L141.7,641.2L143.1,640.6L144.5,640.0L146.0,639.3L147.4,638.6L148.9,638.0L150.3,637.3L151.7,636.6L153.2,635.9L154.6,635.2L156.0,634.6L157.5,633.9L158.9,633.2L160.3,632.6L161.8,631.9L163.2,631.3L164.6,630.7L166.1,630.1L167.5,629.5L169.0,629.0L170.4,628.5L171.8,628.0L173.3,627.5L174.7,627.1L176.1,626.7L177.6,626.3L179.0,625.9L180.4,625.6L181.9,625.3L183.3,625.1L184.8,624.8L186.2,624.7L187.6,624.5L189.1,624.4L190.5,624.3L191.9,624.3L193.4,624.3L194.8,624.3L196.2,624.4L197.7,624.5L199.1,624.7L200.5,624.9L202.0,625.1L203.4,625.3L204.9,625.6L206.3,625.9L207.7,626.3L209.2,626.7L210.6,627.1L212.0,627.5L213.5,628.0L214.9,628.5L216.3,629.0L217.8,629.6L219.2,630.2L220.7,630.7L222.1,631.4L223.5,632.0L225.0,632.6L226.4,633.3L227.8,633.9L229.3,634.6L230.7,635.3L232.1,636.0L233.6,636.7L235.0,637.3L236.4,638.0L237.9,638.7L239.3,639.4L240.8,640.0L242.2,640.6L243.6,641.3L245.1,641.9L246.5,642.5L247.9,643.0L249.4,643.5L250.8,644.0L252.2,644.5L253.7,644.9L255.1,645.3L256.5,645.7L258.0,646.0L259.4,646.2L260.9,646.4L262.3,646.5L263.7,646.6L265.2,646.7L266.6,646.6L268.0,646.5L269.5,646.3L270.9,646.1L272.3,645.8L273.8,645.4L275.2,644.9L276.7,644.3L278.1,643.7L279.5,643.0L281.0,642.1L282.4,641.2L283.8,640.2L285.3,639.1L286.7,637.9L288.1,636.6L289.6,635.2L291.0,633.6L292.4,632.0L293.9,630.3L295.3,628.5L296.8,626.5L298.2,624.4L299.6,622.3L301.1,620.0L302.5,617.6L303.9,615.1L305.4,612.4L306.8,609.7" fill="none" stroke="#d6157a" stroke-width="1.3" stroke-opacity="0.084"/>
<path d="M78.5,631.6L79.9,633.8L81.4,635.9L82.8,637.8L84.2,639.7L85.7,641.5L87.1,643.1L88.5,644.7L90.0,646.1L91.4,647.5L92.9,648.7L94.3,649.9L95.7,650.9L97.2,651.8L98.6,652.7L100.0,653.4L101.5,654.1L102.9,654.7L104.3,655.2L105.8,655.6L107.2,655.9L108.6,656.1L110.1,656.3L111.5,656.4L113.0,656.4L114.4,656.3L115.8,656.2L117.3,656.0L118.7,655.7L120.1,655.4L121.6,655.0L123.0,654.6L124.4,654.1L125.9,653.6L127.3,653.0L128.8,652.4L130.2,651.8L131.6,651.1L133.1,650.4L134.5,649.6L135.9,648.9L137.4,648.1L138.8,647.2L140.2,646.4L141.7,645.5L143.1,644.7L144.5,643.8L146.0,642.9L147.4,642.0L148.9,641.2L150.3,640.3L151.7,639.4L153.2,638.5L154.6,637.6L156.0,636.8L157.5,635.9L158.9,635.1L160.3,634.3L161.8,633.5L163.2,632.8L164.6,632.0L166.1,631.3L167.5,630.6L169.0,629.9L170.4,629.3L171.8,628.7L173.3,628.1L174.7,627.6L176.1,627.1L177.6,626.6L179.0,626.2L180.4,625.8L181.9,625.5L183.3,625.2L184.8,625.0L186.2,624.7L187.6,624.6L189.1,624.4L190.5,624.3L191.9,624.3L193.4,624.3L194.8,624.4L196.2,624.4L197.7,624.6L199.1,624.7L200.5,625.0L202.0,625.2L203.4,625.5L204.9,625.9L206.3,626.3L207.7,626.7L209.2,627.1L210.6,627.6L212.0,628.2L213.5,628.7L214.9,629.3L216.3,630.0L217.8,630.6L219.2,631.3L220.7,632.1L222.1,632.8L223.5,633.6L225.0,634.4L226.4,635.2L227.8,636.0L229.3,636.8L230.7,637.7L232.1,638.6L233.6,639.4L235.0,640.3L236.4,641.2L237.9,642.1L239.3,643.0L240.8,643.9L242.2,644.7L243.6,645.6L245.1,646.5L246.5,647.3L247.9,648.1L249.4,648.9L250.8,649.7L252.2,650.4L253.7,651.1L255.1,651.8L256.5,652.5L258.0,653.1L259.4,653.6L260.9,654.2L262.3,654.6L263.7,655.1L265.2,655.4L266.6,655.7L268.0,656.0L269.5,656.2L270.9,656.3L272.3,656.4L273.8,656.4L275.2,656.3L276.7,656.1L278.1,655.9L279.5,655.5L281.0,655.1L282.4,654.6L283.8,654.1L285.3,653.4L286.7,652.6L288.1,651.8L289.6,650.8L291.0,649.8L292.4,648.6L293.9,647.4L295.3,646.0L296.8,644.6L298.2,643.0L299.6,641.4L301.1,639.6L302.5,637.7L303.9,635.7L305.4,633.6L306.8,631.4" fill="none" stroke="#d6157a" stroke-width="5"/>
<path d="M79.4,624.3 H305.9" stroke="#000" stroke-width="1.9" stroke-dasharray="3.7 3.1"/>
<path d="M78.5,531.2L79.9,536.9L81.4,542.3L82.8,547.4L84.2,552.4L85.7,557.1L87.1,561.6L88.5,565.9L90.0,570.0L91.4,573.9L92.9,577.7L94.3,581.2L95.7,584.5L97.2,587.7L98.6,590.7L100.0,593.6L101.5,596.3L102.9,598.9L104.3,601.3L105.8,603.5L107.2,605.6L108.6,607.6L110.1,609.5L111.5,611.3L113.0,612.9L114.4,614.4L115.8,615.8L117.3,617.1L118.7,618.3L120.1,619.4L121.6,620.5L123.0,621.4L124.4,622.3L125.9,623.0L127.3,623.7L128.8,624.4L130.2,624.9L131.6,625.4L133.1,625.9L134.5,626.3L135.9,626.6L137.4,626.9L138.8,627.1L140.2,627.3L141.7,627.4L143.1,627.5L144.5,627.6L146.0,627.7L147.4,627.7L148.9,627.6L150.3,627.6L151.7,627.5L153.2,627.5L154.6,627.4L156.0,627.3L157.5,627.1L158.9,627.0L160.3,626.8L161.8,626.7L163.2,626.5L164.6,626.4L166.1,626.2L167.5,626.0L169.0,625.9L170.4,625.7L171.8,625.6L173.3,625.4L174.7,625.3L176.1,625.1L177.6,625.0L179.0,624.9L180.4,624.8L181.9,624.7L183.3,624.6L184.8,624.5L186.2,624.4L187.6,624.4L189.1,624.3L190.5,624.3L191.9,624.3L193.4,624.3L194.8,624.3L196.2,624.3L197.7,624.4L199.1,624.4L200.5,624.5L202.0,624.6L203.4,624.7L204.9,624.8L206.3,624.9L207.7,625.0L209.2,625.1L210.6,625.3L212.0,625.4L213.5,625.6L214.9,625.7L216.3,625.9L217.8,626.1L219.2,626.2L220.7,626.4L222.1,626.5L223.5,626.7L225.0,626.9L226.4,627.0L227.8,627.1L229.3,627.3L230.7,627.4L232.1,627.5L233.6,627.6L235.0,627.6L236.4,627.7L237.9,627.7L239.3,627.6L240.8,627.6L242.2,627.5L243.6,627.4L245.1,627.3L246.5,627.1L247.9,626.8L249.4,626.6L250.8,626.2L252.2,625.8L253.7,625.4L255.1,624.9L256.5,624.3L258.0,623.7L259.4,623.0L260.9,622.2L262.3,621.3L263.7,620.4L265.2,619.4L266.6,618.3L268.0,617.0L269.5,615.7L270.9,614.3L272.3,612.8L273.8,611.1L275.2,609.4L276.7,607.5L278.1,605.5L279.5,603.4L281.0,601.1L282.4,598.7L283.8,596.1L285.3,593.4L286.7,590.5L288.1,587.5L289.6,584.3L291.0,580.9L292.4,577.4L293.9,573.7L295.3,569.7L296.8,565.6L298.2,561.3L299.6,556.8L301.1,552.0L302.5,547.1L303.9,541.9L305.4,536.5L306.8,530.8" fill="none" stroke="#111" stroke-width="1.75"/>
</g>
<rect x="79.4" y="523.6" width="226.5" height="150.2" fill="none" stroke="#707070" stroke-width="1.35"/>
<path d="M79.4,573.8 h5.4 M79.4,624.3 h5.4 M101.8,673.8 v-6 M192.6,673.8 v-6 M283.4,673.8 v-6 " stroke="#707070" stroke-width="1.35"/>
<g font-size="15.5" fill="#222" text-anchor="end">
<text x="70.8" y="578.4">100</text>
<text x="71.3" y="629.1">0</text>
<text x="71.3" y="680">−100</text>
</g>
<g font-size="15.5" fill="#222" text-anchor="middle">
<text x="101.2" y="689.6">−2</text>
<text x="192.6" y="689.6">0</text>
<text x="283.4" y="689.6">2</text>
</g>
<text transform="translate(16.6,598.4) rotate(-90)" font-size="17.6" fill="#222" text-anchor="middle" textLength="154" lengthAdjust="spacingAndGlyphs"><tspan font-style="italic">V</tspan><tspan font-size="12.2" dy="5.5">AFD</tspan><tspan dy="-5.5"> (meV per f.u.)</tspan></text>
<text x="132.3" y="716.3" font-size="16.5" fill="#222" textLength="121.0" lengthAdjust="spacingAndGlyphs"><tspan font-style="italic">u</tspan><tspan font-size="11.5" dy="5">AFD</tspan><tspan dy="-5"> (AMU</tspan><tspan font-size="11.5" dy="-6">1/2</tspan><tspan dy="6"> Å)</tspan></text>
<text x="378.6" y="515" font-size="26.5" font-weight="bold" fill="#000">c</text>
<g clip-path="url(#clipC)">
<g filter="url(#fBlur)">
<path d="M455.3,478.5L456.7,483.2L458.2,487.9L459.6,492.4L461.0,496.8L462.5,501.1L463.9,505.3L465.4,509.4L466.8,513.4L468.2,517.3L469.7,521.0L471.1,524.7L472.6,528.3L474.0,531.8L475.5,535.2L476.9,538.5L478.3,541.7L479.8,544.9L481.2,547.9L482.7,550.9L484.1,553.7L485.5,556.5L487.0,559.3L488.4,561.9L489.9,564.5L491.3,567.0L492.7,569.4L494.2,571.8L495.6,574.0L497.1,576.3L498.5,578.4L500.0,580.5L501.4,582.5L502.8,584.5L504.3,586.4L505.7,588.2L507.2,590.0L508.6,591.7L510.0,593.4L511.5,595.0L512.9,596.5L514.4,598.0L515.8,599.5L517.2,600.9L518.7,602.3L520.1,603.6L521.6,604.8L523.0,606.0L524.5,607.2L525.9,608.3L527.3,609.4L528.8,610.4L530.2,611.4L531.7,612.3L533.1,613.2L534.5,614.1L536.0,614.9L537.4,615.7L538.9,616.5L540.3,617.2L541.7,617.9L543.2,618.5L544.6,619.1L546.1,619.7L547.5,620.2L549.0,620.7L550.4,621.2L551.8,621.6L553.3,622.0L554.7,622.4L556.2,622.7L557.6,623.0L559.0,623.3L560.5,623.5L561.9,623.7L563.4,623.9L564.8,624.0L566.2,624.1L567.7,624.2L569.1,624.3L570.6,624.3L572.0,624.3L573.5,624.2L574.9,624.2L576.3,624.1L577.8,623.9L579.2,623.8L580.7,623.6L582.1,623.4L583.5,623.1L585.0,622.8L586.4,622.5L587.9,622.1L589.3,621.7L590.7,621.3L592.2,620.9L593.6,620.4L595.1,619.8L596.5,619.3L598.0,618.7L599.4,618.1L600.8,617.4L602.3,616.7L603.7,616.0L605.2,615.2L606.6,614.4L608.0,613.5L609.5,612.6L610.9,611.7L612.4,610.7L613.8,609.7L615.2,608.6L616.7,607.5L618.1,606.4L619.6,605.2L621.0,604.0L622.5,602.7L623.9,601.3L625.3,600.0L626.8,598.5L628.2,597.0L629.7,595.5L631.1,593.9L632.5,592.2L634.0,590.5L635.4,588.8L636.9,587.0L638.3,585.1L639.7,583.1L641.2,581.1L642.6,579.1L644.1,577.0L645.5,574.8L647.0,572.5L648.4,570.2L649.8,567.8L651.3,565.3L652.7,562.7L654.2,560.1L655.6,557.4L657.0,554.6L658.5,551.8L659.9,548.9L661.4,545.8L662.8,542.7L664.2,539.5L665.7,536.3L667.1,532.9L668.6,529.4L670.0,525.9L671.5,522.2L672.9,518.5L674.3,514.6L675.8,510.7L677.2,506.6L678.7,502.5L680.1,498.2L681.5,493.8L683.0,489.3L684.4,484.7L684.4,431.6L683.0,437.9L681.5,444.1L680.1,450.1L678.7,456.0L677.2,461.8L675.8,467.4L674.3,472.8L672.9,478.1L671.5,483.3L670.0,488.4L668.6,493.3L667.1,498.1L665.7,502.7L664.2,507.2L662.8,511.6L661.4,515.9L659.9,520.1L658.5,524.2L657.0,528.1L655.6,531.9L654.2,535.7L652.7,539.3L651.3,542.8L649.8,546.2L648.4,549.5L647.0,552.8L645.5,555.9L644.1,558.9L642.6,561.9L641.2,564.7L639.7,567.5L638.3,570.2L636.9,572.7L635.4,575.3L634.0,577.7L632.5,580.0L631.1,582.3L629.7,584.5L628.2,586.6L626.8,588.7L625.3,590.7L623.9,592.6L622.5,594.4L621.0,596.2L619.6,597.9L618.1,599.6L616.7,601.2L615.2,602.7L613.8,604.1L612.4,605.6L610.9,606.9L609.5,608.2L608.0,609.4L606.6,610.6L605.2,611.7L603.7,612.8L602.3,613.8L600.8,614.8L599.4,615.7L598.0,616.6L596.5,617.4L595.1,618.2L593.6,618.9L592.2,619.5L590.7,620.2L589.3,620.8L587.9,621.3L586.4,621.8L585.0,622.2L583.5,622.6L582.1,623.0L580.7,623.3L579.2,623.6L577.8,623.8L576.3,624.0L574.9,624.1L573.5,624.2L572.0,624.3L570.6,624.3L569.1,624.3L567.7,624.2L566.2,624.1L564.8,623.9L563.4,623.7L561.9,623.5L560.5,623.2L559.0,622.9L557.6,622.5L556.2,622.1L554.7,621.6L553.3,621.1L551.8,620.6L550.4,620.0L549.0,619.3L547.5,618.6L546.1,617.9L544.6,617.1L543.2,616.3L541.7,615.4L540.3,614.5L538.9,613.5L537.4,612.5L536.0,611.4L534.5,610.2L533.1,609.0L531.7,607.8L530.2,606.5L528.8,605.1L527.3,603.7L525.9,602.2L524.5,600.7L523.0,599.1L521.6,597.4L520.1,595.7L518.7,593.9L517.2,592.0L515.8,590.1L514.4,588.0L512.9,586.0L511.5,583.8L510.0,581.6L508.6,579.3L507.2,576.9L505.7,574.5L504.3,571.9L502.8,569.3L501.4,566.6L500.0,563.8L498.5,560.9L497.1,558.0L495.6,554.9L494.2,551.7L492.7,548.5L491.3,545.1L489.9,541.7L488.4,538.2L487.0,534.5L485.5,530.7L484.1,526.9L482.7,522.9L481.2,518.8L479.8,514.6L478.3,510.3L476.9,505.8L475.5,501.2L474.0,496.5L472.6,491.7L471.1,486.8L469.7,481.7L468.2,476.5L466.8,471.1L465.4,465.6L463.9,460.0L462.5,454.2L461.0,448.2L459.6,442.2L458.2,435.9L456.7,429.5L455.3,422.9Z" fill="#f9a10e" fill-opacity="0.55" stroke="#f9a10e" stroke-opacity="0.55" stroke-width="2"/>
<path d="M455.3,466.3L456.7,471.5L458.2,476.5L459.6,481.4L461.0,486.2L462.5,490.8L463.9,495.4L465.4,499.8L466.8,504.1L468.2,508.3L469.7,512.4L471.1,516.4L472.6,520.3L474.0,524.1L475.5,527.8L476.9,531.3L478.3,534.8L479.8,538.2L481.2,541.5L482.7,544.7L484.1,547.9L485.5,550.9L487.0,553.9L488.4,556.7L489.9,559.5L491.3,562.2L492.7,564.8L494.2,567.4L495.6,569.9L497.1,572.3L498.5,574.6L500.0,576.8L501.4,579.0L502.8,581.2L504.3,583.2L505.7,585.2L507.2,587.1L508.6,589.0L510.0,590.8L511.5,592.5L512.9,594.2L514.4,595.9L515.8,597.4L517.2,599.0L518.7,600.4L520.1,601.8L521.6,603.2L523.0,604.5L524.5,605.8L525.9,607.0L527.3,608.1L528.8,609.2L530.2,610.3L531.7,611.3L533.1,612.3L534.5,613.3L536.0,614.2L537.4,615.0L538.9,615.8L540.3,616.6L541.7,617.3L543.2,618.0L544.6,618.7L546.1,619.3L547.5,619.9L549.0,620.4L550.4,620.9L551.8,621.4L553.3,621.8L554.7,622.2L556.2,622.6L557.6,622.9L559.0,623.2L560.5,623.4L561.9,623.7L563.4,623.9L564.8,624.0L566.2,624.1L567.7,624.2L569.1,624.3L570.6,624.3L572.0,624.3L573.5,624.2L574.9,624.2L576.3,624.1L577.8,623.9L579.2,623.7L580.7,623.5L582.1,623.3L583.5,623.0L585.0,622.7L586.4,622.3L587.9,621.9L589.3,621.5L590.7,621.1L592.2,620.6L593.6,620.0L595.1,619.5L596.5,618.9L598.0,618.2L599.4,617.6L600.8,616.8L602.3,616.1L603.7,615.3L605.2,614.4L606.6,613.6L608.0,612.6L609.5,611.7L610.9,610.7L612.4,609.6L613.8,608.5L615.2,607.3L616.7,606.1L618.1,604.9L619.6,603.6L621.0,602.3L622.5,600.9L623.9,599.4L625.3,597.9L626.8,596.4L628.2,594.8L629.7,593.1L631.1,591.4L632.5,589.6L634.0,587.7L635.4,585.8L636.9,583.9L638.3,581.8L639.7,579.7L641.2,577.6L642.6,575.3L644.1,573.0L645.5,570.6L647.0,568.2L648.4,565.7L649.8,563.1L651.3,560.4L652.7,557.6L654.2,554.8L655.6,551.8L657.0,548.8L658.5,545.7L659.9,542.6L661.4,539.3L662.8,535.9L664.2,532.5L665.7,528.9L667.1,525.3L668.6,521.5L670.0,517.7L671.5,513.7L672.9,509.6L674.3,505.5L675.8,501.2L677.2,496.8L678.7,492.3L680.1,487.7L681.5,482.9L683.0,478.1L684.4,473.1L684.4,443.2L683.0,449.2L681.5,455.0L680.1,460.7L678.7,466.2L677.2,471.6L675.8,476.8L674.3,482.0L672.9,487.0L671.5,491.8L670.0,496.6L668.6,501.2L667.1,505.7L665.7,510.0L664.2,514.3L662.8,518.4L661.4,522.5L659.9,526.4L658.5,530.2L657.0,533.9L655.6,537.5L654.2,541.0L652.7,544.4L651.3,547.7L649.8,550.9L648.4,554.1L647.0,557.1L645.5,560.0L644.1,562.9L642.6,565.6L641.2,568.3L639.7,570.9L638.3,573.4L636.9,575.9L635.4,578.2L634.0,580.5L632.5,582.7L631.1,584.8L629.7,586.9L628.2,588.9L626.8,590.8L625.3,592.7L623.9,594.5L622.5,596.2L621.0,597.9L619.6,599.5L618.1,601.1L616.7,602.6L615.2,604.0L613.8,605.4L612.4,606.7L610.9,608.0L609.5,609.2L608.0,610.3L606.6,611.4L605.2,612.5L603.7,613.5L602.3,614.4L600.8,615.4L599.4,616.2L598.0,617.0L596.5,617.8L595.1,618.5L593.6,619.2L592.2,619.8L590.7,620.4L589.3,621.0L587.9,621.5L586.4,621.9L585.0,622.4L583.5,622.7L582.1,623.1L580.7,623.4L579.2,623.6L577.8,623.8L576.3,624.0L574.9,624.1L573.5,624.2L572.0,624.3L570.6,624.3L569.1,624.3L567.7,624.2L566.2,624.1L564.8,624.0L563.4,623.8L561.9,623.5L560.5,623.3L559.0,623.0L557.6,622.6L556.2,622.2L554.7,621.8L553.3,621.3L551.8,620.8L550.4,620.2L549.0,619.6L547.5,619.0L546.1,618.3L544.6,617.6L543.2,616.8L541.7,615.9L540.3,615.1L538.9,614.1L537.4,613.2L536.0,612.2L534.5,611.1L533.1,610.0L531.7,608.8L530.2,607.6L528.8,606.3L527.3,604.9L525.9,603.5L524.5,602.1L523.0,600.6L521.6,599.0L520.1,597.4L518.7,595.7L517.2,593.9L515.8,592.1L514.4,590.2L512.9,588.3L511.5,586.3L510.0,584.2L508.6,582.0L507.2,579.8L505.7,577.5L504.3,575.1L502.8,572.6L501.4,570.1L500.0,567.5L498.5,564.8L497.1,562.0L495.6,559.1L494.2,556.1L492.7,553.1L491.3,549.9L489.9,546.7L488.4,543.3L487.0,539.9L485.5,536.4L484.1,532.7L482.7,529.0L481.2,525.2L479.8,521.2L478.3,517.1L476.9,513.0L475.5,508.7L474.0,504.3L472.6,499.7L471.1,495.1L469.7,490.3L468.2,485.4L466.8,480.4L465.4,475.2L463.9,469.9L462.5,464.4L461.0,458.9L459.6,453.1L458.2,447.3L456.7,441.3L455.3,435.1Z" fill="#f9a10e" stroke="#f9a10e" stroke-width="2.4"/>
</g>
<path d="M455.3,450.7L456.7,456.4L458.2,461.9L459.6,467.3L461.0,472.5L462.5,477.6L463.9,482.6L465.4,487.5L466.8,492.2L468.2,496.9L469.7,501.4L471.1,505.7L472.6,510.0L474.0,514.2L475.5,518.2L476.9,522.2L478.3,526.0L479.8,529.7L481.2,533.3L482.7,536.9L484.1,540.3L485.5,543.6L487.0,546.9L488.4,550.0L489.9,553.1L491.3,556.1L492.7,559.0L494.2,561.8L495.6,564.5L497.1,567.1L498.5,569.7L500.0,572.2L501.4,574.6L502.8,576.9L504.3,579.2L505.7,581.3L507.2,583.5L508.6,585.5L510.0,587.5L511.5,589.4L512.9,591.3L514.4,593.0L515.8,594.8L517.2,596.4L518.7,598.1L520.1,599.6L521.6,601.1L523.0,602.5L524.5,603.9L525.9,605.3L527.3,606.5L528.8,607.8L530.2,608.9L531.7,610.1L533.1,611.1L534.5,612.2L536.0,613.2L537.4,614.1L538.9,615.0L540.3,615.8L541.7,616.6L543.2,617.4L544.6,618.1L546.1,618.8L547.5,619.4L549.0,620.0L550.4,620.6L551.8,621.1L553.3,621.6L554.7,622.0L556.2,622.4L557.6,622.8L559.0,623.1L560.5,623.4L561.9,623.6L563.4,623.8L564.8,624.0L566.2,624.1L567.7,624.2L569.1,624.3L570.6,624.3L572.0,624.3L573.5,624.2L574.9,624.2L576.3,624.0L577.8,623.9L579.2,623.7L580.7,623.4L582.1,623.2L583.5,622.9L585.0,622.5L586.4,622.1L587.9,621.7L589.3,621.2L590.7,620.7L592.2,620.2L593.6,619.6L595.1,619.0L596.5,618.3L598.0,617.6L599.4,616.9L600.8,616.1L602.3,615.3L603.7,614.4L605.2,613.5L606.6,612.5L608.0,611.5L609.5,610.4L610.9,609.3L612.4,608.1L613.8,606.9L615.2,605.7L616.7,604.4L618.1,603.0L619.6,601.6L621.0,600.1L622.5,598.6L623.9,597.0L625.3,595.3L626.8,593.6L628.2,591.8L629.7,590.0L631.1,588.1L632.5,586.1L634.0,584.1L635.4,582.0L636.9,579.9L638.3,577.6L639.7,575.3L641.2,572.9L642.6,570.5L644.1,567.9L645.5,565.3L647.0,562.6L648.4,559.9L649.8,557.0L651.3,554.0L652.7,551.0L654.2,547.9L655.6,544.7L657.0,541.4L658.5,538.0L659.9,534.5L661.4,530.9L662.8,527.2L664.2,523.4L665.7,519.5L667.1,515.5L668.6,511.3L670.0,507.1L671.5,502.8L672.9,498.3L674.3,493.7L675.8,489.0L677.2,484.2L678.7,479.2L680.1,474.2L681.5,469.0L683.0,463.6L684.4,458.1" fill="none" stroke="#f9a10e" stroke-width="2.4"/>
<path d="M456.2,624.3 H683.5" stroke="#000" stroke-width="1.9" stroke-dasharray="3.7 3.1"/>
<path d="M455.3,532.1L456.7,537.6L458.2,542.9L459.6,548.0L461.0,552.9L462.5,557.6L463.9,562.0L465.4,566.2L466.8,570.3L468.2,574.1L469.7,577.8L471.1,581.3L472.6,584.6L474.0,587.8L475.5,590.8L476.9,593.6L478.3,596.3L479.8,598.8L481.2,601.2L482.7,603.4L484.1,605.5L485.5,607.5L487.0,609.4L488.4,611.1L489.9,612.7L491.3,614.2L492.7,615.6L494.2,617.0L495.6,618.2L497.1,619.3L498.5,620.3L500.0,621.2L501.4,622.1L502.8,622.9L504.3,623.6L505.7,624.2L507.2,624.8L508.6,625.3L510.0,625.8L511.5,626.2L512.9,626.5L514.4,626.8L515.8,627.0L517.2,627.2L518.7,627.4L520.1,627.5L521.6,627.6L523.0,627.6L524.5,627.7L525.9,627.7L527.3,627.6L528.8,627.6L530.2,627.5L531.7,627.4L533.1,627.3L534.5,627.2L536.0,627.1L537.4,626.9L538.9,626.8L540.3,626.6L541.7,626.5L543.2,626.3L544.6,626.1L546.1,626.0L547.5,625.8L549.0,625.7L550.4,625.5L551.8,625.3L553.3,625.2L554.7,625.1L556.2,624.9L557.6,624.8L559.0,624.7L560.5,624.6L561.9,624.5L563.4,624.5L564.8,624.4L566.2,624.4L567.7,624.3L569.1,624.3L570.6,624.3L572.0,624.3L573.5,624.3L574.9,624.4L576.3,624.4L577.8,624.5L579.2,624.5L580.7,624.6L582.1,624.7L583.5,624.8L585.0,624.9L586.4,625.0L587.9,625.2L589.3,625.3L590.7,625.4L592.2,625.6L593.6,625.8L595.1,625.9L596.5,626.1L598.0,626.2L599.4,626.4L600.8,626.6L602.3,626.7L603.7,626.9L605.2,627.0L606.6,627.1L608.0,627.3L609.5,627.4L610.9,627.5L612.4,627.6L613.8,627.6L615.2,627.7L616.7,627.7L618.1,627.7L619.6,627.6L621.0,627.5L622.5,627.4L623.9,627.3L625.3,627.1L626.8,626.9L628.2,626.6L629.7,626.3L631.1,625.9L632.5,625.5L634.0,625.0L635.4,624.4L636.9,623.8L638.3,623.1L639.7,622.4L641.2,621.5L642.6,620.6L644.1,619.6L645.5,618.5L647.0,617.4L648.4,616.1L649.8,614.7L651.3,613.2L652.7,611.6L654.2,609.9L655.6,608.1L657.0,606.2L658.5,604.1L659.9,601.9L661.4,599.6L662.8,597.1L664.2,594.5L665.7,591.7L667.1,588.7L668.6,585.6L670.0,582.4L671.5,578.9L672.9,575.3L674.3,571.5L675.8,567.6L677.2,563.4L678.7,559.0L680.1,554.4L681.5,549.6L683.0,544.6L684.4,539.4" fill="none" stroke="#111" stroke-width="1.75"/>
</g>
<rect x="456.2" y="523.6" width="227.3" height="150.1" fill="none" stroke="#707070" stroke-width="1.35"/>
<path d="M456.2,573.8 h5.4 M456.2,624.3 h5.4 M478.7,673.7 v-6 M570.8,673.7 v-6 M662.9,673.7 v-6 " stroke="#707070" stroke-width="1.35"/>
<g font-size="15.5" fill="#222" text-anchor="end">
<text x="447.6" y="578.4">100</text>
<text x="448.1" y="629.1">0</text>
<text x="448.1" y="680">−100</text>
</g>
<g font-size="15.5" fill="#222" text-anchor="middle">
<text x="478.1" y="689.6">−2</text>
<text x="570.8" y="689.6">0</text>
<text x="662.9" y="689.6">2</text>
</g>
<text transform="translate(394.2,598.4) rotate(-90)" font-size="17.6" fill="#222" text-anchor="middle" textLength="154" lengthAdjust="spacingAndGlyphs"><tspan font-style="italic">V</tspan><tspan font-size="12.2" dy="5.5">AFD</tspan><tspan dy="-5.5"> (meV per f.u.)</tspan></text>
<text x="510.0" y="716.3" font-size="16.5" fill="#222" textLength="120.0" lengthAdjust="spacingAndGlyphs"><tspan font-style="italic">u</tspan><tspan font-size="11.5" dy="5">AFD</tspan><tspan dy="-5"> (AMU</tspan><tspan font-size="11.5" dy="-6">1/2</tspan><tspan dy="6"> Å)</tspan></text>
<text x="158.3" y="582" font-size="22" font-style="italic" fill="#d4237f" textLength="13.6" lengthAdjust="spacingAndGlyphs">Q</text>
<text x="174.5" y="575.8" font-size="16.8" fill="#d4237f">2</text>
<text x="174.4" y="589.6" font-size="13.5" fill="#d4237f">IR</text>
<text x="193.4" y="583.2" font-size="21" font-style="italic" fill="#e8261e" textLength="10.4" lengthAdjust="spacingAndGlyphs">u</text>
<text x="204.8" y="575.8" font-size="16.8" fill="#e8261e">2</text>
<text x="204.8" y="589.8" font-size="13.5" fill="#e8261e" textLength="29.3" lengthAdjust="spacingAndGlyphs">AFD</text>
<text x="541.6" y="581" font-size="22" font-style="italic" fill="#f7a21b" textLength="17.2" lengthAdjust="spacingAndGlyphs">Q</text>
<text x="558.2" y="586" font-size="15.5" font-style="italic" fill="#f7a21b">η</text>
<text x="569.6" y="583.2" font-size="21" font-style="italic" fill="#e8261e" textLength="10.8" lengthAdjust="spacingAndGlyphs">u</text>
<text x="581.6" y="576" font-size="16.8" fill="#e8261e">2</text>
<text x="582.4" y="590" font-size="13.5" fill="#e8261e" textLength="28.4" lengthAdjust="spacingAndGlyphs">AFD</text>
</svg></body></html>
